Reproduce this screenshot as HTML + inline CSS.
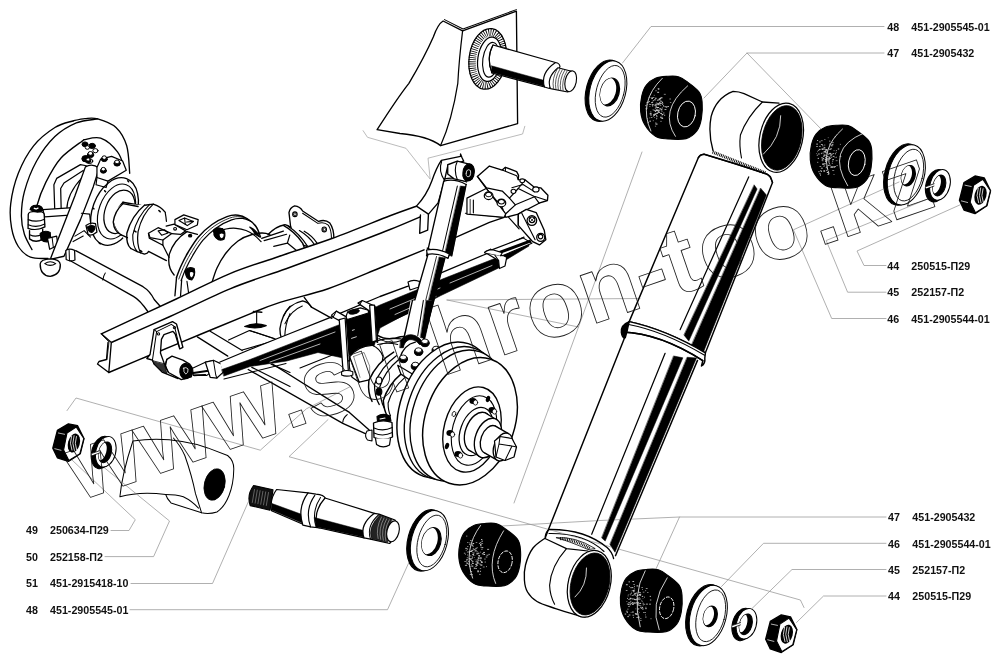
<!DOCTYPE html>
<html><head><meta charset="utf-8"><title>Shock absorber diagram</title>
<style>html,body{margin:0;padding:0;background:#fff}svg{display:block}</style></head>
<body>
<svg width="1000" height="655" viewBox="0 0 1000 655" stroke-linecap="round" stroke-linejoin="round">
<path d="M73.3,120.8 C70.2,121.9 61.5,123.3 54.9,127.5 C48.3,131.7 39.7,138.2 33.6,145.8 C27.5,153.4 22.1,163.6 18.3,173.3 C14.5,183.0 11.8,194.7 10.7,203.8 C9.6,213.0 10.3,221.1 11.6,228.2 C12.9,235.3 15.2,241.7 18.3,246.5 C21.4,251.3 25.6,255.2 30.5,257.2 C35.5,259.2 45.1,258.3 48.0,258.5" fill="none" stroke="#000" stroke-width="1.34" /><path d="M97.7,118.9 C94.1,119.6 83.4,120.0 76.3,122.9 C69.2,125.9 61.5,130.2 54.9,136.6 C48.3,142.9 41.7,151.8 36.6,161.0 C31.5,170.2 26.9,182.4 24.4,191.6 C21.9,200.8 21.4,208.9 21.4,216.0 C21.4,223.1 22.6,228.7 24.4,234.3 C26.2,239.9 30.7,247.1 32.0,249.6" fill="none" stroke="#000" stroke-width="1.34" /><path d="M84.0,139.7 C80.2,142.8 67.4,150.9 61.0,158.0 C54.6,165.1 49.9,174.3 45.8,182.4 C41.7,190.5 38.4,200.2 36.6,206.8 C34.8,213.4 35.4,219.5 35.1,222.0" fill="none" stroke="#000" stroke-width="1.34" /><path d="M73.3,120.8 C75.2,120.4 80.9,118.9 85.0,118.6 C89.1,118.3 92.5,117.4 97.7,118.9 C102.9,120.4 111.2,123.0 116.0,127.5 C120.8,132.0 124.4,138.2 126.7,145.8 C129.0,153.4 129.2,168.7 129.7,173.3" fill="none" stroke="#000" stroke-width="1.34" /><path d="M84.0,139.7 C86.8,139.4 95.1,136.2 100.7,138.2 C106.3,140.2 113.4,146.6 117.5,151.9 C121.6,157.2 123.9,167.1 125.2,170.2" fill="none" stroke="#000" stroke-width="1.34" /><ellipse cx="85.0" cy="144.3" rx="3.0" ry="2.4" fill="#000" stroke="#000" stroke-width="1"/><ellipse cx="92.2" cy="145.9" rx="3.2" ry="2.6" fill="#000" stroke="#000" stroke-width="1"/><ellipse cx="95.4" cy="150.7" rx="2.6" ry="2.1" fill="#fff" stroke="#000" stroke-width="1"/><ellipse cx="87.4" cy="147.5" rx="2.2" ry="1.8" fill="#fff" stroke="#000" stroke-width="1"/><ellipse cx="85.8" cy="158.7" rx="4.0" ry="3.2" fill="#000" stroke="#000" stroke-width="1"/><ellipse cx="89.8" cy="161.1" rx="3.0" ry="2.4" fill="#fff" stroke="#000" stroke-width="1"/><ellipse cx="114.5" cy="211.5" rx="22.0" ry="35.0" transform="rotate(20 114.5 211.5)" fill="#fff" stroke="#000" stroke-width="1.34" /><ellipse cx="116.5" cy="211.5" rx="17.5" ry="28.5" transform="rotate(20 116.5 211.5)" fill="none" stroke="#000" stroke-width="1.12" /><ellipse cx="119.5" cy="211.8" rx="14.5" ry="22.5" transform="rotate(20 119.5 211.8)" fill="none" stroke="#000" stroke-width="1.23" /><g transform="translate(20,150) scale(0.18322)"><path d="M190,335 L185,190 L200,155 L330,80 L362,86" fill="none" stroke="#000" stroke-width="6.72"/><path d="M225,335 L222,210 L240,180 L345,112" fill="none" stroke="#000" stroke-width="6.72"/><path d="M255,330 Q255,240 340,150" fill="none" stroke="#000" stroke-width="6.11"/><path d="M125,325 L290,315 L270,355 L135,365 Z" fill="#fff" stroke="#000" stroke-width="6.72"/><path d="M45,352 Q45,335 88,335 Q132,335 132,352 L136,420 Q90,445 44,428 Z" fill="#fff" stroke="#000" stroke-width="7.34"/><path d="M45,380 Q90,398 134,378 M45,408 Q90,428 135,404" fill="none" stroke="#000" stroke-width="6.11"/><path d="M52,440 L52,485 Q85,510 122,488 L124,432" fill="#fff" stroke="#000" stroke-width="7.34"/><path d="M53,462 Q88,480 123,458" fill="none" stroke="#000" stroke-width="6.11"/><path d="M55,325 Q60,300 92,302 Q125,305 125,330 Q92,350 55,325Z" fill="#000" stroke="#000" stroke-width="6.11"/><path d="M78,318 l10,4 l10,-5" fill="none" stroke="#fff" stroke-width="7.34"/><path d="M110,455 Q135,435 165,450 L168,495 Q140,510 115,490 Z" fill="#000" stroke="#000" stroke-width="6.11"/><path d="M150,482 L200,470 L207,520 L162,542 Z" fill="#fff" stroke="#000" stroke-width="6.72"/><path d="M175,476 L182,532" fill="none" stroke="#000" stroke-width="5.50"/><path d="M357,92 Q395,70 432,100 L400,200 L330,380 L240,580 L165,597 L230,430 L300,250 Z" fill="#fff" stroke="#000" stroke-width="7.34"/><path d="M420,95 L440,50 L500,35 L560,60 L580,110 L480,170 L420,150 Z" fill="#fff" stroke="#000" stroke-width="6.72"/><path d="M420,150 L415,190 L470,205 L480,170" fill="none" stroke="#000" stroke-width="6.11"/><path d="M588,168 l5,5 M462,222 l5,6 M398,318 l6,3 M433,508 l6,4" fill="none" stroke="#000" stroke-width="8.19"/><path d="M562,285 L660,302 L660,480 L592,470 L545,450 Q500,400 520,330 Q535,295 562,285 Z" fill="#fff" stroke="none" stroke-width="0.00"/><path d="M562,285 Q515,330 515,395 Q525,440 545,450" fill="none" stroke="#000" stroke-width="7.34"/><path d="M562,285 L660,303" fill="none" stroke="#000" stroke-width="7.34"/><path d="M545,450 L592,471" fill="none" stroke="#000" stroke-width="7.34"/><path d="M360,412 Q385,392 412,402 L420,448 Q395,470 372,462 Z" fill="#fff" stroke="#000" stroke-width="6.72"/><path d="M368,420 Q388,405 408,418 Q410,440 392,450 Q372,448 368,420Z" fill="#000" stroke="#000" stroke-width="6.11"/><path d="M335,345 L380,350 L386,405" fill="none" stroke="#000" stroke-width="6.11"/><path d="M300,470 L350,440 L385,475 M290,500 L345,470" fill="none" stroke="#000" stroke-width="6.11"/><path d="M110,622 Q112,596 165,594 Q218,596 220,625 Q222,680 165,690 Q110,685 110,622Z" fill="#fff" stroke="#000" stroke-width="7.34"/><path d="M135,620 Q165,600 195,620 Q165,640 135,620Z" fill="none" stroke="#000" stroke-width="6.11"/><path d="M250,548 Q270,535 298,548 L300,600 Q275,612 252,598 Z" fill="#fff" stroke="#000" stroke-width="6.72"/><path d="M268,545 L270,606" fill="none" stroke="#000" stroke-width="5.50"/></g><ellipse cx="104.3" cy="159.2" rx="3.0" ry="2.4" fill="#000" stroke="#000" stroke-width="1"/><ellipse cx="104.3" cy="157.6" rx="2.2" ry="1.8" fill="#fff" stroke="#000" stroke-width="1"/><ellipse cx="117.1" cy="163.5" rx="3.2" ry="2.6" fill="#000" stroke="#000" stroke-width="1"/><ellipse cx="117.1" cy="161.9" rx="2.4" ry="1.9" fill="#fff" stroke="#000" stroke-width="1"/><ellipse cx="103.4" cy="170.8" rx="3.0" ry="2.4" fill="#000" stroke="#000" stroke-width="1"/><ellipse cx="103.4" cy="169.2" rx="2.2" ry="1.8" fill="#fff" stroke="#000" stroke-width="1"/><ellipse cx="90.5" cy="155.0" rx="3.2" ry="2.6" fill="#000" stroke="#000" stroke-width="1"/><ellipse cx="90.5" cy="153.4" rx="2.4" ry="1.9" fill="#fff" stroke="#000" stroke-width="1"/><ellipse cx="88.2" cy="161.1" rx="2.6" ry="2.1" fill="#000" stroke="#000" stroke-width="1"/><ellipse cx="88.2" cy="159.5" rx="2.0" ry="1.6" fill="#fff" stroke="#000" stroke-width="1"/><path d="M75.7,250.6 L143,286.7 Q150,291 154.2,299.5 L160.6,306.7" fill="none" stroke="#000" stroke-width="1.34" /><path d="M70.8,261 L133.4,296.3 Q140,300 147.8,311.5" fill="none" stroke="#000" stroke-width="1.34" /><path d="M105.3,273 q-2,3 -2.5,7" fill="none" stroke="#000" stroke-width="1.01" /><path d="M176.5,277.4 C173.3,271.7 179.1,270.1 181.0,266.0 C182.9,261.9 185.1,257.3 188.0,252.5 C190.9,247.7 194.4,241.7 198.4,237.0 C202.4,232.3 207.2,227.9 212.0,224.5 C216.8,221.1 222.7,218.2 227.0,216.6 C231.3,215.0 234.7,214.9 238.0,215.2 C241.3,215.5 244.0,216.6 247.0,218.5 C250.0,220.4 253.8,223.4 256.0,226.5 C258.2,229.6 259.5,231.1 260.5,237.0 C261.5,242.9 265.4,253.2 262.0,262.0 C258.6,270.8 250.3,283.7 240.0,290.0 C229.7,296.3 210.6,302.1 200.0,300.0 C189.4,297.9 179.7,283.1 176.5,277.4Z" fill="#fff" stroke="#000" stroke-width="0" /><path d="M176.5,277.4 C177.2,275.5 179.1,270.1 181.0,266.0 C182.9,261.9 185.1,257.3 188.0,252.5 C190.9,247.7 194.4,241.7 198.4,237.0 C202.4,232.3 207.2,227.9 212.0,224.5 C216.8,221.1 222.7,218.2 227.0,216.6 C231.3,215.0 234.7,214.9 238.0,215.2 C241.3,215.5 244.0,216.6 247.0,218.5 C250.0,220.4 253.8,223.4 256.0,226.5 C258.2,229.6 259.8,235.2 260.5,237.0" fill="none" stroke="#000" stroke-width="1.46" /><path d="M181.1,280.6 C181.8,278.7 183.7,273.3 185.6,269.2 C187.5,265.1 189.7,260.5 192.6,255.7 C195.5,250.9 199.0,244.9 203.0,240.2 C207.0,235.5 211.8,231.1 216.6,227.7 C221.4,224.3 227.3,221.3 231.6,219.8 C235.9,218.2 239.3,218.1 242.6,218.4 C245.9,218.7 250.1,221.1 251.6,221.7" fill="none" stroke="#000" stroke-width="1.23" /><path d="M178.8,279.0 C179.6,277.1 181.4,271.8 183.3,267.6 C185.2,263.5 187.4,258.9 190.3,254.1 C193.2,249.3 196.7,243.3 200.7,238.6 C204.7,233.9 209.5,229.5 214.3,226.1 C219.1,222.7 225.0,219.8 229.3,218.2 C233.6,216.6 237.0,216.5 240.3,216.8 C243.6,217.1 247.8,219.5 249.3,220.1" fill="none" stroke="#000" stroke-width="0.8" /><path d="M211.5,284.0 C212.4,281.3 214.6,273.2 217.0,268.0 C219.4,262.8 222.5,257.5 226.0,253.0 C229.5,248.5 233.7,244.1 238.0,241.0 C242.3,237.9 247.3,235.8 252.0,234.5 C256.7,233.2 262.2,232.6 266.0,233.3 C269.8,234.1 272.7,236.6 275.0,239.0 C277.3,241.4 278.8,245.2 280.0,248.0 C281.2,250.8 281.7,254.7 282.0,256.0" fill="none" stroke="#000" stroke-width="1.34" /><path d="M216.6,232.5 C218.2,231.9 222.8,229.7 226.0,229.0 C229.2,228.3 232.7,228.1 236.0,228.3 C239.3,228.6 243.0,229.4 246.0,230.5 C249.0,231.6 251.5,233.2 254.0,235.0 C256.5,236.8 259.8,240.4 261.0,241.5" fill="none" stroke="#000" stroke-width="1.23" /><g transform="translate(110,190) scale(0.16032)"><path d="M80,85 L215,95 L130,365 L70,280 Q10,220 25,150 Q40,100 80,85Z" fill="#fff" stroke="none" stroke-width="0.00"/><path d="M80,85 Q30,130 20,200 Q25,260 70,280" fill="none" stroke="#000" stroke-width="8.38"/><path d="M80,85 L175,103" fill="none" stroke="#000" stroke-width="8.38"/><path d="M70,280 L112,298" fill="none" stroke="#000" stroke-width="8.38"/><path d="M215,95 L270,88 L310,105 L345,140 L350,200 L240,385 L215,400 L170,385 L130,365 Q90,270 130,170 Q170,100 215,95Z" fill="#fff" stroke="none" stroke-width="0.00"/><path d="M215,95 Q135,160 105,270 Q100,340 130,365" fill="none" stroke="#000" stroke-width="8.38"/><path d="M248,90 Q168,165 142,280 Q140,350 170,385" fill="none" stroke="#000" stroke-width="6.99"/><path d="M215,95 L270,88 Q320,105 345,140" fill="none" stroke="#000" stroke-width="8.38"/><path d="M130,365 L170,385 L215,400 Q235,395 240,385" fill="none" stroke="#000" stroke-width="8.38"/><path d="M270,88 Q200,150 175,260 Q165,340 190,392" fill="none" stroke="#000" stroke-width="7.68"/><path d="M305,128 l8,8" fill="none" stroke="#000" stroke-width="9.98"/><path d="M152,255 l10,6" fill="none" stroke="#000" stroke-width="9.98"/><path d="M190,378 l8,6" fill="none" stroke="#000" stroke-width="9.98"/><path d="M345,145 Q350,170 352,195" fill="none" stroke="#000" stroke-width="7.68"/><path d="M240,383 L352,440" fill="none" stroke="#000" stroke-width="8.38"/><path d="M240,270 L300,235 L385,272 L330,312 L250,297 Z" fill="#fff" stroke="#000" stroke-width="7.68"/><path d="M240,270 L245,300 L330,345 L330,312" fill="none" stroke="#000" stroke-width="7.68"/><path d="M300,255 L340,248 L362,268 L322,282 Z" fill="none" stroke="#000" stroke-width="6.99"/><path d="M350,225 L400,213 L472,255 L440,277 L385,272" fill="none" stroke="#000" stroke-width="7.68"/><path d="M397,242 a9,8 0 1,0 18,0 a9,8 0 1,0 -18,0" fill="none" stroke="#000" stroke-width="6.99"/><path d="M405,185 L460,155 L550,185 L545,218 L480,248 L405,215 Z" fill="#fff" stroke="#000" stroke-width="7.68"/><path d="M430,190 L465,175 L520,196 L482,222 Z" fill="none" stroke="#000" stroke-width="6.99"/><path d="M465,175 L470,215 M520,196 L478,200" fill="none" stroke="#000" stroke-width="6.99"/><path d="M480,260 Q400,310 370,400 Q355,480 400,530" fill="none" stroke="#000" stroke-width="8.38"/><path d="M480,260 L545,277" fill="none" stroke="#000" stroke-width="8.38"/><path d="M330,345 L368,420" fill="none" stroke="#000" stroke-width="7.68"/><path d="M490,285 a10,8 0 1,0 20,0 a10,8 0 1,0 -20,0" fill="#000" stroke="#000" stroke-width="6.99"/><path d="M645,250 Q670,225 705,245 Q720,280 690,305 Q650,310 645,250Z" fill="#000" stroke="#000" stroke-width="7.68"/><path d="M672,262 Q690,250 706,268 Q708,290 688,298 Q670,290 672,262Z" fill="#fff" stroke="#000" stroke-width="6.99"/><path d="M470,500 Q490,475 525,490 Q535,530 510,560 Q470,560 470,500Z" fill="#000" stroke="#000" stroke-width="7.68"/><path d="M495,512 Q510,502 524,515 Q526,540 508,550 Q492,540 495,512Z" fill="#fff" stroke="#000" stroke-width="6.99"/><path d="M415,545 L405,660" fill="none" stroke="#000" stroke-width="8.38"/><path d="M447,562 L440,660" fill="none" stroke="#000" stroke-width="7.68"/><path d="M480,570 L490,640" fill="none" stroke="#000" stroke-width="6.99"/></g><g transform="translate(200,195) scale(0.16032)"><path d="M565,195 L555,110 Q560,80 590,68 Q625,72 640,100 L740,165 Q780,150 810,175 Q835,210 835,270 L820,285 L700,330 L600,300 Z" fill="#fff" stroke="#000" stroke-width="8.38"/><path d="M640,114 L735,177 Q775,165 800,188 Q820,215 820,272" fill="none" stroke="#000" stroke-width="6.29"/><path d="M578,120 a14,15 0 1,0 28,0 a14,15 0 1,0 -28,0" fill="none" stroke="#000" stroke-width="6.99"/><path d="M584,120 a8,9 0 1,0 16,0 a8,9 0 1,0 -16,0" fill="none" stroke="#000" stroke-width="4.99"/><path d="M761,215 a14,15 0 1,0 28,0 a14,15 0 1,0 -28,0" fill="none" stroke="#000" stroke-width="6.99"/><path d="M767,215 a8,9 0 1,0 16,0 a8,9 0 1,0 -16,0" fill="none" stroke="#000" stroke-width="4.99"/><path d="M385,270 L520,225 L560,200 L600,235 L660,345 L610,352 L500,388 L460,320 L400,285 Z" fill="#fff" stroke="none" stroke-width="0.00"/><path d="M385,270 L520,225" fill="none" stroke="#000" stroke-width="8.38"/><path d="M400,285 L540,245" fill="none" stroke="#000" stroke-width="7.68"/><path d="M425,247 Q470,195 530,185 Q550,190 562,200" fill="none" stroke="#000" stroke-width="9.08"/><path d="M460,320 L545,300 L560,250" fill="none" stroke="#000" stroke-width="7.68"/><path d="M545,300 L600,345" fill="none" stroke="#000" stroke-width="7.68"/><path d="M500,385 L612,350" fill="none" stroke="#000" stroke-width="7.68"/><path d="M520,190 Q590,228 640,300 L656,342" fill="none" stroke="#000" stroke-width="9.08"/><path d="M550,195 Q620,240 672,322" fill="none" stroke="#000" stroke-width="7.68"/><path d="M620,222 Q680,258 716,312" fill="none" stroke="#000" stroke-width="7.68"/><path d="M650,226 Q700,254 730,300" fill="none" stroke="#000" stroke-width="7.68"/><path d="M310,200 Q350,215 372,262 L345,245 Q330,215 310,200Z" fill="#000" stroke="#000" stroke-width="6.99"/><path d="M88,250 Q100,205 140,210 Q165,235 150,275 Q110,295 88,250Z" fill="#000" stroke="#000" stroke-width="7.68"/><path d="M118,245 Q135,228 152,245 Q152,268 135,275 Q118,268 118,245Z" fill="#fff" stroke="#000" stroke-width="6.99"/></g><path d="M101.3,333.8 L176.2,299.0 L230.0,273.6 L278.1,256.7 L332.6,238.3 L390.0,215.8 L416.5,206.2 L424.0,249.8 L376.2,269.5 L328.1,288.7 L280.0,302.4 L250.0,313.8 L200.0,334.5 L148.0,356.0 L108.8,372.5Z" fill="#fff" stroke="#000" stroke-width="0" /><path d="M101.3,333.8 C113.8,328.0 154.8,309.0 176.2,299.0 C197.6,289.0 213.0,280.7 230.0,273.6 C247.0,266.6 261.0,262.6 278.1,256.7 C295.2,250.8 314.0,245.1 332.6,238.3 C351.2,231.5 376.0,221.2 390.0,215.8 C404.0,210.5 412.1,207.8 416.5,206.2" fill="none" stroke="#000" stroke-width="1.46" /><path d="M111.3,342.5 C121.1,338.2 150.2,325.4 170.0,316.5 C189.8,307.6 210.7,296.8 230.0,288.8 C249.3,280.8 267.4,275.5 286.1,268.7 C304.8,261.9 324.9,254.4 342.2,247.9 C359.5,241.4 376.3,235.0 390.0,229.5 C403.7,224.0 418.8,217.4 424.5,215.0" fill="none" stroke="#000" stroke-width="1.46" /><path d="M108.8,372.5 C115.3,369.8 132.8,362.3 148.0,356.0 C163.2,349.7 183.0,341.5 200.0,334.5 C217.0,327.5 236.7,319.2 250.0,313.8 C263.3,308.4 267.0,306.6 280.0,302.4 C293.0,298.2 312.1,294.2 328.1,288.7 C344.1,283.2 360.2,276.0 376.2,269.5 C392.2,263.0 416.0,253.1 424.0,249.8" fill="none" stroke="#000" stroke-width="1.46" /><path d="M101.3,333.8 L111.3,342.5 L108.8,372.5 L97.5,364 L99,361.5 L106.5,359.5 L108,342.5" fill="#fff" stroke="#000" stroke-width="1.34" /><path d="M102.5,335.5 L109,342 L107,359.5" fill="none" stroke="#000" stroke-width="0.8" /><path d="M248.2,369.5 L342.8,423.4 L367,434.4 L369.2,430 L349.4,412.4 L272.4,364 Z" fill="#fff" stroke="#000" stroke-width="0" /><path d="M248.2,369.5 L342.8,423.4 L367,434.4" fill="none" stroke="#000" stroke-width="1.34" /><path d="M272.4,364 L349.4,412.4 L369.2,430" fill="none" stroke="#000" stroke-width="1.34" /><path d="M347.2,414.6 Q343,418 342.8,422.3" fill="none" stroke="#000" stroke-width="1.12" /><path d="M367,431 Q364,436 367.5,440 L372,441 L372,430Z" fill="#fff" stroke="#000" stroke-width="1.12" /><path d="M377,416.5 Q383,412.5 390,416 L391,421 Q384,424 377.5,421.5Z" fill="#000" stroke="#000" stroke-width="1.12" /><path d="M373.5,423 Q383,419 392,422.5 L392.5,437 Q384,441.5 374,437.5Z" fill="#fff" stroke="#000" stroke-width="1.34" /><path d="M374,428 Q383,432 392.3,427.5 M374,433 Q383,437 392.4,432.5" fill="none" stroke="#000" stroke-width="1.01" /><path d="M375.5,438.5 L376.5,444.5 Q383,449 389.5,445 L390.5,438.5" fill="#fff" stroke="#000" stroke-width="1.23" /><path d="M380,419 l5,-1" fill="none" stroke="#fff" stroke-width="1.12" /><g transform="translate(130,300) scale(0.16032)"><path d="M420,230 L610,350" fill="none" stroke="#000" stroke-width="7.68"/><path d="M500,195 L700,315" fill="none" stroke="#000" stroke-width="7.68"/><path d="M615,250 L745,190 L900,240" fill="none" stroke="#000" stroke-width="6.99"/><path d="M745,190 L998,275" fill="none" stroke="#000" stroke-width="6.99"/><path d="M700,312 L998,228" fill="none" stroke="#000" stroke-width="7.68"/><path d="M760,420 L998,540" fill="none" stroke="#000" stroke-width="7.68"/><path d="M880,400 L998,452" fill="none" stroke="#000" stroke-width="7.68"/><path d="M715,165 Q780,135 850,160 Q790,185 715,165Z" fill="#000" stroke="#000" stroke-width="6.99"/><path d="M790,72 L790,150" fill="none" stroke="#000" stroke-width="6.99"/><path d="M770,72 L822,76" fill="none" stroke="#000" stroke-width="9.78"/><path d="M998,40 Q945,100 935,180 Q935,215 945,240" fill="none" stroke="#000" stroke-width="8.38"/><path d="M998,85 Q968,150 965,232" fill="none" stroke="#000" stroke-width="6.99"/><path d="M150,185 L265,135 L290,150 L330,295 L310,305 L282,212 L268,196 L212,216 L196,246 L190,330 L215,400 L300,490 L200,450 L150,400 L140,375 L105,365 L125,340 Z" fill="#fff" stroke="#000" stroke-width="8.38"/><path d="M166,197 L258,152 L278,166 L308,292" fill="none" stroke="#000" stroke-width="6.29"/><path d="M150,185 L166,197 L140,375" fill="none" stroke="#000" stroke-width="6.29"/><path d="M171,212 a7,7 0 1,0 14,0 a7,7 0 1,0 -14,0" fill="none" stroke="#000" stroke-width="6.29"/><path d="M270,172 a7,7 0 1,0 14,0 a7,7 0 1,0 -14,0" fill="none" stroke="#000" stroke-width="6.29"/><path d="M140,380 Q170,430 230,460 L215,400 Z" fill="#333" stroke="#000" stroke-width="4.99"/><path d="M230,370 L262,350 L330,375 L372,400 L392,440 L382,480 L320,497 L240,452 L220,410 Z" fill="#fff" stroke="#000" stroke-width="8.38"/><path d="M230,370 Q210,410 240,452" fill="none" stroke="#000" stroke-width="6.99"/><path d="M345,395 Q395,405 392,445 Q385,490 335,492 Q305,470 312,430 Q320,400 345,395Z" fill="#000" stroke="#000" stroke-width="6.99"/><path d="M335,425 Q350,415 362,430 Q365,455 348,462 Q332,452 335,425Z" fill="#000" stroke="#fff" stroke-width="4.99"/><path d="M390,425 L470,388 L520,378 L540,420 L480,470 L395,470 Z" fill="#fff" stroke="#000" stroke-width="6.99"/><path d="M395,455 L500,440" fill="none" stroke="#000" stroke-width="12.47"/><path d="M400,470 L470,466" fill="none" stroke="#000" stroke-width="9.98"/><path d="M470,388 L520,376 L572,400 L582,450 L542,487 L500,482 Z" fill="#fff" stroke="#000" stroke-width="7.68"/><path d="M520,376 L535,468 L542,487" fill="none" stroke="#000" stroke-width="6.29"/></g><path d="M220.0,362.0 L250.0,349.5 L290.0,333.5 L328.0,318.3 L380.0,296.5 L408.0,286.1 L444.0,271.7 L486.0,254.0 L524.0,237.2 L529.0,246.0 L505.0,260.5 L498.6,268.0 L440.9,295.5 L415.3,309.0 L380.0,328.0 L373.0,349.0 L349.0,355.0 L343.0,358.0 L318.0,352.5 L286.6,361.0 L250.0,366.5 L224.0,376.0Z" fill="#fff" stroke="#000" stroke-width="0" /><path d="M222.0,369.5 L250.0,359.5 L340.0,324.4 L380.0,305.0 L415.3,290.5 L442.5,279.0 L492.2,259.5 L505.0,254.5 L528.0,242.5 L529.0,246.0 L505.0,260.5 L498.6,268.0 L440.9,295.5 L415.3,309.0 L380.0,328.0 L373.0,349.0 L349.0,355.0 L343.0,358.0 L318.0,352.5 L286.6,361.0 L250.0,366.5 L224.0,376.0Z" fill="#000" stroke="#000" stroke-width="0.6" /><path d="M220.0,362.0 L250.0,349.5 L290.0,333.5 L328.0,318.3 L380.0,296.5 L408.0,286.1 L444.0,271.7 L486.0,254.0 L524.0,237.2" fill="none" stroke="#000" stroke-width="1.34" /><path d="M224,379 L286,363.5" fill="none" stroke="#000" stroke-width="1.12" /><path d="M341.6,347 L380,326 L430,303" fill="none" stroke="#000" stroke-width="1.46" /><path d="M300,368 L340,352" fill="none" stroke="#000" stroke-width="1.12" /><path d="M260,360.5 L335,332 M270,362 L320,344 M390,309 L440,288 M395,314.5 L436,296.5 M450,283 L492,265.5" fill="none" stroke="#fff" stroke-width="0.7" /><path d="M485,252.4 L490.6,249.2 L506.7,257.3 L505,266 L499.4,268.5 L498.6,260.5 Z" fill="#fff" stroke="#000" stroke-width="1.23" /><path d="M490.6,249.2 L498.6,260.5" fill="none" stroke="#000" stroke-width="1.01" /><path d="M408,282 Q413,279 419.5,281.5 L419,287 L410,290Z" fill="#fff" stroke="#000" stroke-width="1.12" /><g transform="translate(285,255) scale(0.16032)"><path d="M-10,380 Q25,305 110,286 Q150,297 165,325" fill="none" stroke="#000" stroke-width="8.38"/><path d="M0,428 Q38,345 108,318" fill="none" stroke="#000" stroke-width="6.99"/><path d="M120,264 L165,325 L292,395" fill="none" stroke="#000" stroke-width="8.38"/><path d="M385,402 L522,360 L550,590 L405,625 Z" fill="#000" stroke="#000" stroke-width="3.12"/><path d="M380,385 L392,352 L470,330 L520,345 L520,362 L388,402Z" fill="#fff" stroke="#000" stroke-width="6.99"/><path d="M396,358 a34,14 -12 1,0 68,-8 a34,14 -12 1,0 -68,8" fill="#000" stroke="#000" stroke-width="4.99"/><path d="M420,470 l12,-4 M415,520 l30,-10" fill="none" stroke="#fff" stroke-width="4.99"/><path d="M290,375 L320,350 L382,386 L402,660 L380,660 L360,420 L300,388 Z" fill="#fff" stroke="#000" stroke-width="7.68"/><path d="M320,350 L300,388" fill="none" stroke="#000" stroke-width="6.29"/><path d="M455,300 L482,284 L562,320 L578,545 L552,532 L532,352 L466,308 Z" fill="#fff" stroke="#000" stroke-width="7.68"/><path d="M482,284 L466,308" fill="none" stroke="#000" stroke-width="6.29"/><path d="M575,500 Q640,540 720,510 Q790,500 840,520" fill="none" stroke="#000" stroke-width="9.78"/><path d="M585,520 Q650,560 720,535" fill="none" stroke="#000" stroke-width="6.99"/></g><g transform="translate(390,150) scale(0.16032)"><path d="M410,545 L620,452 L712,420" fill="none" stroke="#000" stroke-width="8.38"/><path d="M470,395 L700,420" fill="none" stroke="#000" stroke-width="6.29"/><path d="M190,405 L185,520 L235,500 L240,395" fill="#fff" stroke="#000" stroke-width="8.38"/><path d="M320,65 L440,40 L440,25 L448,45 L460,70 L360,100 L340,190 L300,330 L240,400 L165,350 Q230,280 262,190 Q290,110 320,65Z" fill="#fff" stroke="#000" stroke-width="8.38"/><path d="M322,72 Q300,130 340,190" fill="none" stroke="#000" stroke-width="6.99"/><path d="M545,165 L620,100 L700,125 L720,108 L790,135 L802,158 L800,185 L842,186 L900,232 L940,236 L985,282 L982,315 L930,332 L800,400 L722,420 L700,360 L600,240 Z" fill="#fff" stroke="#000" stroke-width="8.38"/><path d="M545,165 L602,236 L700,256 L745,300 L782,342 L722,398" fill="none" stroke="#000" stroke-width="7.68"/><path d="M700,125 L790,160 L800,185" fill="none" stroke="#000" stroke-width="6.99"/><path d="M720,108 L720,130" fill="none" stroke="#000" stroke-width="6.29"/><path d="M745,300 L800,240 L900,290 L930,332" fill="none" stroke="#000" stroke-width="7.68"/><path d="M782,342 L905,290 L982,315" fill="none" stroke="#000" stroke-width="6.99"/><path d="M800,240 L842,186" fill="none" stroke="#000" stroke-width="6.99"/><path d="M760,235 L830,215 L900,260" fill="none" stroke="#000" stroke-width="6.29"/><path d="M480,300 L600,240 L722,398 L712,420 L480,400 Z" fill="#fff" stroke="#000" stroke-width="7.68"/><path d="M520,312 L520,392" fill="none" stroke="#000" stroke-width="6.99"/><path d="M500,308 L500,396" fill="none" stroke="#000" stroke-width="4.99"/><path d="M588,285 a27,24 0 1,0 54,0 a27,24 0 1,0 -54,0" fill="#fff" stroke="#000" stroke-width="7.68"/><path d="M596,278 a19,14 0 1,0 38,0 a19,14 0 1,0 -38,0" fill="none" stroke="#000" stroke-width="6.29"/><path d="M668,330 a27,24 0 1,0 54,0 a27,24 0 1,0 -54,0" fill="#fff" stroke="#000" stroke-width="7.68"/><path d="M676,323 a19,14 0 1,0 38,0 a19,14 0 1,0 -38,0" fill="none" stroke="#000" stroke-width="6.29"/><path d="M755,258 a15,13 0 1,0 30,0 a15,13 0 1,0 -30,0" fill="#fff" stroke="#000" stroke-width="6.99"/><path d="M890,246 a20,16 0 1,0 40,0 a20,16 0 1,0 -40,0" fill="#fff" stroke="#000" stroke-width="6.99"/><path d="M810,192 a15,12 0 1,0 30,0 a15,12 0 1,0 -30,0" fill="#fff" stroke="#000" stroke-width="6.99"/><path d="M800,400 L850,370 L912,390 L962,500 L972,560 L932,592 L890,572 L800,470 Z" fill="#fff" stroke="#000" stroke-width="8.38"/><path d="M800,470 L800,400 M822,395 L905,560" fill="none" stroke="#000" stroke-width="6.99"/><path d="M855,440 a30,30 0 1,0 60,0 a30,30 0 1,0 -60,0" fill="#fff" stroke="#000" stroke-width="7.68"/><path d="M868,435 a18,18 0 1,0 36,0 a18,18 0 1,0 -36,0" fill="none" stroke="#000" stroke-width="6.99"/><path d="M875,425 l22,22 m0,-22 l-22,22" fill="none" stroke="#000" stroke-width="4.99"/><path d="M915,545 a25,25 0 1,0 50,0 a25,25 0 1,0 -50,0" fill="#fff" stroke="#000" stroke-width="7.68"/><path d="M925,540 a14,14 0 1,0 28,0 a14,14 0 1,0 -28,0" fill="none" stroke="#000" stroke-width="6.99"/><path d="M740,420 L805,492" fill="none" stroke="#000" stroke-width="7.68"/><path d="M590,640 L830,548 L885,582 L700,660 Z" fill="#fff" stroke="#000" stroke-width="6.99"/><path d="M680,640 L870,570" fill="none" stroke="#000" stroke-width="18.71"/><path d="M590,640 Q600,625 640,622 L700,640 L690,660" fill="#fff" stroke="#000" stroke-width="7.68"/><path d="M335,195 L475,215 L385,660 L228,660 Z" fill="#fff" stroke="none" stroke-width="0.00"/><path d="M335,195 L228,660" fill="none" stroke="#000" stroke-width="8.38"/><path d="M475,215 L385,660" fill="none" stroke="#000" stroke-width="8.38"/><path d="M440,225 L472,228 L385,660 L340,660 Z" fill="#000" stroke="#000" stroke-width="3.12"/><path d="M420,225 L322,655" fill="none" stroke="#000" stroke-width="6.29"/><path d="M335,195 Q400,175 475,215" fill="none" stroke="#000" stroke-width="7.68"/><path d="M340,180 Q410,165 478,200" fill="none" stroke="#000" stroke-width="6.99"/><path d="M232,612 Q300,650 380,632" fill="none" stroke="#000" stroke-width="7.68"/><path d="M360,92 L420,70 L500,90 L525,130 L512,180 L470,196 L400,180 L360,150 Z" fill="#fff" stroke="#000" stroke-width="8.38"/><path d="M420,70 Q395,120 420,185" fill="none" stroke="#000" stroke-width="6.99"/><path d="M455,140 a35,48 10 1,0 70,0 a35,48 10 1,0 -70,0" fill="#000" stroke="#000" stroke-width="6.99"/><path d="M475,145 a14,20 10 1,0 28,0 a14,20 10 1,0 -28,0" fill="none" stroke="#fff" stroke-width="4.99"/></g><path d="M428.1,254 L444.9,258 L423.7,339 L404.1,337.3 Z" fill="#fff" stroke="#000" stroke-width="0" /><path d="M428.1,254 L404.1,337.3 M444.9,258 L423.7,339" fill="none" stroke="#000" stroke-width="1.34" /><path d="M439.3,257 L444.9,258 L424.3,338.5 L419.6,337.4 Z" fill="#000" stroke="#000" stroke-width="0.5" /><path d="M436.5,256.5 L416.8,336.6" fill="none" stroke="#000" stroke-width="0.8" /><path d="M426.5,250 Q437.7,247.5 449.3,254 L448.1,258.4 Q437.7,252.5 427.3,254.3 Z" fill="#fff" stroke="#000" stroke-width="1.23" /><g transform="translate(340,310) scale(0.16032)"><path d="M440,-60 L400,170 L520,182 L572,-60 Z" fill="#fff" stroke="none" stroke-width="0.00"/><path d="M452,-60 L400,170" fill="none" stroke="#000" stroke-width="8.38"/><path d="M580,-60 L522,182" fill="none" stroke="#000" stroke-width="8.38"/><path d="M538,-60 L582,-60 L530,180 L502,172 Z" fill="#000" stroke="#000" stroke-width="3.12"/><path d="M520,-60 L485,160" fill="none" stroke="#000" stroke-width="6.29"/><path d="M380,185 Q420,140 470,160 Q510,180 520,215 L495,215 Q470,180 430,185 Q400,200 395,235 L375,235 Z" fill="#000" stroke="#000" stroke-width="4.99"/><path d="M60,292 Q110,225 200,220 Q250,240 268,290 L250,420 L120,450 Z" fill="#fff" stroke="#000" stroke-width="7.68"/><path d="M60,292 Q50,360 75,420 L120,450" fill="none" stroke="#000" stroke-width="7.68"/><path d="M85,290 L150,265 L185,350 L185,440 M85,290 L125,420" fill="none" stroke="#555" stroke-width="4.37"/><path d="M335,262 Q230,325 180,440 Q170,520 250,605 L330,655 L420,500 L380,300 Z" fill="#fff" stroke="none" stroke-width="0.00"/><path d="M335,262 Q230,325 180,440 Q172,520 200,570" fill="none" stroke="#000" stroke-width="9.08"/><path d="M352,285 Q255,355 215,465 Q215,540 245,590" fill="none" stroke="#000" stroke-width="7.68"/><path d="M365,310 Q280,380 248,480 Q250,560 275,610" fill="none" stroke="#000" stroke-width="7.68"/><path d="M385,395 Q300,465 270,565 Q275,630 295,660" fill="none" stroke="#000" stroke-width="9.08"/><path d="M405,420 Q325,490 300,580 Q300,630 315,660" fill="none" stroke="#000" stroke-width="6.99"/><path d="M225,440 a18,22 0 1,0 36,0 a18,22 0 1,0 -36,0" fill="#fff" stroke="#000" stroke-width="6.99"/><path d="M225,510 a18,22 0 1,0 36,0 a18,22 0 1,0 -36,0" fill="#000" stroke="#000" stroke-width="6.99"/><path d="M360,345 L470,410 L440,440 L380,400 Z" fill="#fff" stroke="#000" stroke-width="7.68"/><path d="M372,300 Q400,215 470,200" fill="none" stroke="#000" stroke-width="8.38"/><path d="M240,190 Q300,170 380,180" fill="none" stroke="#000" stroke-width="8.38"/><path d="M235,215 Q300,200 360,215" fill="none" stroke="#000" stroke-width="6.99"/><path d="M-5,60 L32,50 L52,380 L20,392 Z" fill="#fff" stroke="#000" stroke-width="7.68"/><path d="M185,-30 L215,-30 L227,190 L200,200 Z" fill="#fff" stroke="#000" stroke-width="7.68"/><path d="M10,385 Q40,370 80,385 L80,405 Q40,420 10,405Z" fill="#fff" stroke="#000" stroke-width="6.99"/></g><ellipse cx="425.0" cy="343.1" rx="4.2" ry="3.6" fill="#000" stroke="#000" stroke-width="1"/><ellipse cx="425.0" cy="341.3" rx="3.4" ry="2.3" fill="#fff" stroke="#000" stroke-width="0.8"/><ellipse cx="436.2" cy="350.3" rx="4.2" ry="3.6" fill="#000" stroke="#000" stroke-width="1"/><ellipse cx="436.2" cy="348.5" rx="3.4" ry="2.3" fill="#fff" stroke="#000" stroke-width="0.8"/><ellipse cx="418.6" cy="351.9" rx="4.2" ry="3.6" fill="#000" stroke="#000" stroke-width="1"/><ellipse cx="418.6" cy="350.1" rx="3.4" ry="2.3" fill="#fff" stroke="#000" stroke-width="0.8"/><ellipse cx="403.3" cy="359.1" rx="4.2" ry="3.6" fill="#000" stroke="#000" stroke-width="1"/><ellipse cx="403.3" cy="357.3" rx="3.4" ry="2.3" fill="#fff" stroke="#000" stroke-width="0.8"/><ellipse cx="415.4" cy="366.3" rx="4.2" ry="3.6" fill="#000" stroke="#000" stroke-width="1"/><ellipse cx="415.4" cy="364.5" rx="3.4" ry="2.3" fill="#fff" stroke="#000" stroke-width="0.8"/><ellipse cx="446.0" cy="410.0" rx="46.0" ry="70.0" transform="rotate(18.6 446.0 410.0)" fill="#fff" stroke="#000" stroke-width="1.46" /><ellipse cx="452.7" cy="413.2" rx="45.5" ry="68.5" transform="rotate(18.6 452.7 413.2)" fill="#fff" stroke="#000" stroke-width="1.34" /><ellipse cx="458.0" cy="415.7" rx="45.2" ry="67.5" transform="rotate(18.6 458.0 415.7)" fill="#fff" stroke="#000" stroke-width="1.34" /><ellipse cx="470.0" cy="421.3" rx="44.8" ry="65.4" transform="rotate(18.6 470.0 421.3)" fill="#fff" stroke="#000" stroke-width="1.46" /><ellipse cx="472.0" cy="429.5" rx="27.9" ry="43.5" transform="rotate(15 472.0 429.5)" fill="#fff" stroke="#000" stroke-width="1.34" /><ellipse cx="474.0" cy="430.5" rx="21.5" ry="35.5" transform="rotate(15 474.0 430.5)" fill="none" stroke="#000" stroke-width="1.12" /><ellipse cx="473" cy="401" rx="3.6" ry="3" fill="#000"/><ellipse cx="475.5" cy="402.5" rx="2.2" ry="2.6" fill="#fff" stroke="#000" stroke-width="0.8"/><ellipse cx="488" cy="399" rx="2" ry="3.2" transform="rotate(20 488 399)" fill="#000"/><ellipse cx="492" cy="410" rx="3.6" ry="3" fill="#000"/><ellipse cx="494.5" cy="411.5" rx="2.2" ry="2.6" fill="#fff" stroke="#000" stroke-width="0.8"/><ellipse cx="450" cy="433" rx="3.6" ry="3" fill="#000"/><ellipse cx="452.5" cy="434.5" rx="2.2" ry="2.6" fill="#fff" stroke="#000" stroke-width="0.8"/><ellipse cx="447" cy="446" rx="2" ry="3.2" transform="rotate(20 447 446)" fill="#000"/><ellipse cx="458" cy="454" rx="3.6" ry="3" fill="#000"/><ellipse cx="460.5" cy="455.5" rx="2.2" ry="2.6" fill="#fff" stroke="#000" stroke-width="0.8"/><ellipse cx="454" cy="414" rx="1.8" ry="2.6" transform="rotate(20 454 414)" fill="#fff" stroke="#000" stroke-width="0.8"/><ellipse cx="476.0" cy="431.5" rx="15.5" ry="25.0" transform="rotate(20 476.0 431.5)" fill="#fff" stroke="#000" stroke-width="1.23" /><ellipse cx="478.0" cy="432.0" rx="12.5" ry="20.5" transform="rotate(20 478.0 432.0)" fill="#fff" stroke="#000" stroke-width="1.34" /><path d="M485.0,412.7 L495.0,418.7 L481.0,457.3 L471.0,451.3Z" fill="#fff" stroke="#000" stroke-width="0" /><path d="M485.0,412.7 L495.0,418.7 M481.0,457.3 L471.0,451.3" fill="none" stroke="#000" stroke-width="1.34" /><ellipse cx="488.0" cy="438.0" rx="12.5" ry="20.5" transform="rotate(20 488.0 438.0)" fill="#fff" stroke="#000" stroke-width="1.34" /><ellipse cx="490.0" cy="439.5" rx="9.0" ry="14.5" transform="rotate(20 490.0 439.5)" fill="#fff" stroke="#000" stroke-width="1.34" /><path d="M495.0,425.9 L508.0,433.4 L498.0,460.6 L485.0,453.1Z" fill="#fff" stroke="#000" stroke-width="0" /><path d="M495.0,425.9 L508.0,433.4 M498.0,460.6 L485.0,453.1" fill="none" stroke="#000" stroke-width="1.34" /><ellipse cx="503.0" cy="447.0" rx="9.0" ry="14.5" transform="rotate(20 503.0 447.0)" fill="#fff" stroke="#000" stroke-width="1.34" /><path d="M494.5,441 L500,436.5 L512,438.5 L516.5,447 L514,457 L505,460.5 L496,457 Z" fill="#fff" stroke="#000" stroke-width="1.23" /><path d="M500,436.5 L499,444 L496,457 M499,444 L512,446 L516.5,447 M512,446 L505,460.5" fill="none" stroke="#000" stroke-width="1.01" />
<path d="M363.1,130.7 L367.5,137.3 L406,148.3 L425.8,173.6 L430.2,179.1 L428,158.2 L522.6,134 L524.8,126.3" fill="none" stroke="#aaa" stroke-width="0.8" /><path d="M443.1,21 L462.6,30.8 L516.4,11.2 L517.6,123.6 L440.6,145.6 Q428,136 400,133.5 L377.1,129.7 Q398,97 408.9,83.3 Q425,56 433.3,36.9 Q438,24 443.1,21Z" fill="#fff" stroke="#000" stroke-width="1.34" /><path d="M444.5,19.6 L463,29 L516.4,9.6" fill="none" stroke="#000" stroke-width="1.01" /><path d="M462.6,30.8 Q459,60 457.8,83.3 Q452,120 440.6,145.6" fill="none" stroke="#000" stroke-width="1.23" /><ellipse cx="487.7" cy="58.9" rx="18.6" ry="30.5" transform="rotate(8 487.7 58.9)" fill="#fff" stroke="#000" stroke-width="1.23" /><ellipse cx="487.7" cy="58.9" rx="15.3" ry="26.5" transform="rotate(8 487.7 58.9)" fill="none" stroke="#000" stroke-width="7.5" stroke-dasharray="0.8 1.3" stroke-linecap="butt"/><ellipse cx="489.6" cy="59.3" rx="11.8" ry="22.3" transform="rotate(8 489.6 59.3)" fill="#fff" stroke="#000" stroke-width="1.23" /><ellipse cx="490.8" cy="59.8" rx="8.0" ry="17.5" transform="rotate(8 490.8 59.8)" fill="#fff" stroke="#000" stroke-width="1.12" /><path d="M493,45 L555.5,62.5 L544.5,87 L492,73 Q486,58 493,45Z" fill="#fff" stroke="#000" stroke-width="1.23" /><path d="M493,45 Q486,58 492,73" fill="none" stroke="#000" stroke-width="1.12" /><path d="M491.5,65.8 L543.7,80.3 L544.5,86.5 L492,72.5Z" fill="#000" stroke="#000" stroke-width="0.5" /><path d="M555.5,62.5 Q559.5,63 560,66.5 L549.4,88.5 L544.5,87 Q540,73 555.5,62.5Z" fill="#fff" stroke="#000" stroke-width="1.12" /><path d="M558,67.8 L571.5,71.3 L567.7,92 L550.5,88.6 Q546,78 558,67.8Z" fill="#fff" stroke="#000" stroke-width="1.12" /><path d="M557.5,68.5 q-6,10 -4,20" fill="none" stroke="#333" stroke-width="0.8" /><path d="M559.9,69.1 q-6,10 -4,20" fill="none" stroke="#333" stroke-width="0.8" /><path d="M562.3,69.7 q-6,10 -4,20" fill="none" stroke="#333" stroke-width="0.8" /><path d="M564.7,70.3 q-6,10 -4,20" fill="none" stroke="#333" stroke-width="0.8" /><path d="M567.1,70.9 q-6,10 -4,20" fill="none" stroke="#333" stroke-width="0.8" /><ellipse cx="570.7" cy="81.3" rx="5.6" ry="10.6" transform="rotate(12 570.7 81.3)" fill="#fff" stroke="#000" stroke-width="1.12" />
<path d="M629.2,321.6 L698.3,157.8 L700.5,155.3 L704.0,154.2 L735.0,163.5 L767.5,174.3 L770.3,176.5 L772.5,182.6 L705.4,352.8 Q665.5,329.4 629.2,321.6 Z" fill="#fff" stroke="#000" stroke-width="1.46" /><path d="M748.7,176.9 L680.1,329.7" fill="none" stroke="#000" stroke-width="1.23" /><path d="M754.3,185.1 L757.1,189.0 L688.8,341.1 L684.1,335.2Z" fill="#000" stroke="#000" stroke-width="0.5" /><path d="M760.7,188.3 L766.4,195.0 L702.8,353.7 L690.9,346.9Z" fill="#000" stroke="#000" stroke-width="0.5" /><path d="M629.2,321.6 Q665.5,329.4 705.4,352.8 L704.8,358 Q705.5,363.5 701.5,366 L702.8,360.6 Q660,333.3 622.2,332 Z" fill="#fff" stroke="#000" stroke-width="1.46" /><path d="M627.5,324.2 Q664.5,331.2 704.6,355.3" fill="none" stroke="#000" stroke-width="1.01" /><path d="M629.2,321.6 Q620.5,325 621.3,332.5 Q622,337.5 625,338.8 L627,331.5 Z" fill="#000" stroke="#000" stroke-width="1.34" /><path d="M624.3,338.5 L545.3,537.5 Q590.0,533.0 615.5,555.7 L697.5,360.4 Q661.0,336.5 624.3,338.5 Z" fill="#fff" stroke="#000" stroke-width="0" /><path d="M624.3,338.5 L545.3,537.5 M615.5,555.7 L697.5,360.4" fill="none" stroke="#000" stroke-width="1.46" /><path d="M665.1,353.3 L591.7,534.3" fill="none" stroke="#000" stroke-width="1.23" /><path d="M673.8,356.0 L682.9,357.8 L605.2,541.1 L601.8,538.0Z" fill="#000" stroke="#000" stroke-width="0.5" /><path d="M687.3,357.3 L696.5,357.9 L615.0,552.3 L610.0,544.5Z" fill="#000" stroke="#000" stroke-width="0.5" /><path d="M622.2,332 Q660,333.3 702.8,360.6" fill="none" stroke="#000" stroke-width="1.46" /><path d="M545.6,537.7 C537.8,539.0 536.4,543.5 533.0,548.0 C529.6,552.5 526.9,559.7 525.5,565.0 C524.1,570.3 524.1,575.5 524.4,580.0 C524.7,584.5 525.4,588.4 527.5,592.0 C529.6,595.6 532.3,598.7 537.0,601.5 C541.7,604.3 547.6,606.0 555.6,608.6 C563.6,611.2 576.1,620.1 585.3,617.0 C594.5,613.9 607.4,600.8 611.0,590.0 C614.6,579.2 612.2,560.3 607.0,552.0 C601.8,543.7 590.2,542.4 580.0,540.0 C569.8,537.6 553.4,536.4 545.6,537.7Z" fill="#fff" stroke="#000" stroke-width="0" /><path d="M545.6,537.7 C543.5,539.4 536.4,543.5 533.0,548.0 C529.6,552.5 526.9,559.7 525.5,565.0 C524.1,570.3 524.1,575.5 524.4,580.0 C524.7,584.5 525.4,588.4 527.5,592.0 C529.6,595.6 532.3,598.7 537.0,601.5 C541.7,604.3 549.3,606.4 555.6,608.6 C561.9,610.8 570.1,613.2 575.0,614.6 C579.9,616.0 583.3,616.6 585.0,617.0" fill="none" stroke="#000" stroke-width="1.34" /><path d="M545,538.5 L566.5,548.6 L588,551" fill="none" stroke="#000" stroke-width="1.23" /><path d="M566.5,548.6 Q551,566 549.6,585.3 Q550,596 554.6,604.2" fill="none" stroke="#000" stroke-width="1.12" /><path d="M556.5,537.7 Q575,536 595.2,548.6 L588,549.5 Q570,541.5 556.5,537.7Z" fill="#fff" stroke="#000" stroke-width="0.8" /><path d="M560,538.6 Q575,539.5 590,548.5" fill="none" stroke="#000" stroke-width="3" stroke-dasharray="0.9 0.9" stroke-linecap="butt"/><path d="M545.3,536.5 Q546,531.5 549,529.5 Q585,529 607.1,547.6 Q612,552 613.6,558.5" fill="none" stroke="#000" stroke-width="1.34" /><path d="M549,533.5 Q585,533 604,551.5" fill="none" stroke="#000" stroke-width="1.12" /><ellipse cx="589.3" cy="583.8" rx="21.0" ry="34.0" transform="rotate(14 589.3 583.8)" fill="#fff" stroke="#000" stroke-width="1.23" /><ellipse cx="590.0" cy="584.0" rx="19.0" ry="31.6" transform="rotate(14 590.0 584.0)" fill="#000" stroke="#000" stroke-width="0.8" /><path d="M586.5,568 Q587,586 575,597" fill="none" stroke="#fff" stroke-width="0.8" /><path d="M713.0,150.5 C703.5,144.1 709.6,138.8 709.3,133.1 C709.0,127.4 709.4,122.1 711.1,116.6 C712.8,111.1 715.7,104.3 719.4,100.1 C723.1,95.9 729.0,92.5 733.1,91.4 C737.2,90.3 739.2,91.9 744.1,93.7 C749.0,95.5 756.6,100.4 762.4,102.0 C768.2,103.6 772.7,98.7 779.0,103.4 C785.3,108.1 798.2,119.2 800.0,130.0 C801.8,140.8 795.7,161.1 790.0,168.0 C784.3,174.9 778.8,174.5 766.0,171.6 C753.2,168.7 722.5,156.9 713.0,150.5Z" fill="#fff" stroke="#000" stroke-width="0" /><path d="M713,150.5 Q708,133 711.1,116.6 Q716,98 733.1,91.4 Q739,91.5 744.1,93.7 L762.4,102 L779,103.2" fill="none" stroke="#000" stroke-width="1.34" /><path d="M762.4,102 Q747,117 740.4,135 Q739,146 741.5,158" fill="none" stroke="#000" stroke-width="1.12" /><path d="M712.6,152 L765.6,173" fill="none" stroke="#000" stroke-width="3.2" stroke-dasharray="0.9 0.9" stroke-linecap="butt"/><path d="M698.3,157.8 Q699.5,154.5 704,154.2 L766,173.8 Q771,176 772.5,182.6" fill="none" stroke="#000" stroke-width="1.34" /><ellipse cx="781.2" cy="137.7" rx="21.4" ry="35.2" transform="rotate(13 781.2 137.7)" fill="#fff" stroke="#000" stroke-width="1.23" /><ellipse cx="781.8" cy="137.9" rx="19.4" ry="32.8" transform="rotate(13 781.8 137.9)" fill="#000" stroke="#000" stroke-width="0.8" /><path d="M780.7,115.7 Q781,138 763.3,154.2" fill="none" stroke="#fff" stroke-width="0.8" />
<ellipse cx="604.5" cy="90.7" rx="18.2" ry="31.4" transform="rotate(15 604.5 90.7)" fill="#000" stroke="#000" stroke-width="1.12" /><ellipse cx="607.8" cy="91.0" rx="17.9" ry="30.8" transform="rotate(15 607.8 91.0)" fill="#fff" stroke="#000" stroke-width="1.01" /><ellipse cx="610.2" cy="91.3" rx="13.8" ry="26.5" transform="rotate(15 610.2 91.3)" fill="none" stroke="#000" stroke-width="0.8" /><clipPath id="wc606"><ellipse cx="609.8" cy="91.9" rx="9.4" ry="14.2" transform="rotate(15 609.8 91.9)" fill="#000" stroke="#000" stroke-width="0" /></clipPath><ellipse cx="609.8" cy="91.9" rx="9.4" ry="14.2" transform="rotate(15 609.8 91.9)" fill="#000" stroke="#000" stroke-width="1.12" /><g clip-path="url(#wc606)"><ellipse cx="607.0" cy="91.1" rx="8.8" ry="13.7" transform="rotate(15 607.0 91.1)" fill="#fff" stroke="#000" stroke-width="0" /></g><ellipse cx="426.1" cy="540.4" rx="18.2" ry="31.4" transform="rotate(15 426.1 540.4)" fill="#000" stroke="#000" stroke-width="1.12" /><ellipse cx="429.4" cy="540.7" rx="17.9" ry="30.8" transform="rotate(15 429.4 540.7)" fill="#fff" stroke="#000" stroke-width="1.01" /><ellipse cx="431.8" cy="541.0" rx="13.8" ry="26.5" transform="rotate(15 431.8 541.0)" fill="none" stroke="#000" stroke-width="0.8" /><clipPath id="wc427"><ellipse cx="431.4" cy="541.6" rx="9.4" ry="14.2" transform="rotate(15 431.4 541.6)" fill="#000" stroke="#000" stroke-width="0" /></clipPath><ellipse cx="431.4" cy="541.6" rx="9.4" ry="14.2" transform="rotate(15 431.4 541.6)" fill="#000" stroke="#000" stroke-width="1.12" /><g clip-path="url(#wc427)"><ellipse cx="428.6" cy="540.8" rx="8.8" ry="13.7" transform="rotate(15 428.6 540.8)" fill="#fff" stroke="#000" stroke-width="0" /></g><ellipse cx="903.0" cy="174.5" rx="18.2" ry="31.4" transform="rotate(15 903.0 174.5)" fill="#000" stroke="#000" stroke-width="1.12" /><ellipse cx="906.3" cy="174.8" rx="17.9" ry="30.8" transform="rotate(15 906.3 174.8)" fill="#fff" stroke="#000" stroke-width="1.01" /><ellipse cx="908.7" cy="175.1" rx="13.8" ry="26.5" transform="rotate(15 908.7 175.1)" fill="none" stroke="#000" stroke-width="0.8" /><clipPath id="wc904"><ellipse cx="908.3" cy="175.7" rx="6.8" ry="10.4" transform="rotate(15 908.3 175.7)" fill="#000" stroke="#000" stroke-width="0" /></clipPath><ellipse cx="908.3" cy="175.7" rx="6.8" ry="10.4" transform="rotate(15 908.3 175.7)" fill="#000" stroke="#000" stroke-width="1.12" /><g clip-path="url(#wc904)"><ellipse cx="905.5" cy="174.9" rx="6.2" ry="9.9" transform="rotate(15 905.5 174.9)" fill="#fff" stroke="#000" stroke-width="0" /></g><ellipse cx="705.0" cy="615.2" rx="18.2" ry="31.4" transform="rotate(15 705.0 615.2)" fill="#000" stroke="#000" stroke-width="1.12" /><ellipse cx="708.3" cy="615.5" rx="17.9" ry="30.8" transform="rotate(15 708.3 615.5)" fill="#fff" stroke="#000" stroke-width="1.01" /><ellipse cx="710.7" cy="615.8" rx="13.8" ry="26.5" transform="rotate(15 710.7 615.8)" fill="none" stroke="#000" stroke-width="0.8" /><clipPath id="wc706"><ellipse cx="710.3" cy="616.4" rx="6.8" ry="10.4" transform="rotate(15 710.3 616.4)" fill="#000" stroke="#000" stroke-width="0" /></clipPath><ellipse cx="710.3" cy="616.4" rx="6.8" ry="10.4" transform="rotate(15 710.3 616.4)" fill="#000" stroke="#000" stroke-width="1.12" /><g clip-path="url(#wc706)"><ellipse cx="707.5" cy="615.6" rx="6.2" ry="9.9" transform="rotate(15 707.5 615.6)" fill="#fff" stroke="#000" stroke-width="0" /></g><g transform="translate(671.3,107.7)"><path d="M-15.8,-29.4 C-12.2,-30.9 -7.3,-31.1 -3.5,-31.4 C0.3,-31.7 3.8,-32.0 7.1,-31.0 C10.4,-30.0 12.8,-28.2 16.3,-25.6 C19.8,-23.1 25.4,-19.0 27.8,-15.7 C30.2,-12.4 30.4,-10.2 30.8,-5.8 C31.2,-1.3 31.0,6.1 30.1,11.0 C29.2,15.9 28.1,20.0 25.5,23.3 C22.9,26.6 19.6,29.6 14.8,30.9 C10.0,32.2 1.6,31.6 -3.5,31.2 C-8.6,30.8 -12.0,31.0 -15.8,28.6 C-19.6,26.2 -24.0,21.3 -26.5,17.1 C-29.0,12.9 -30.2,8.2 -30.7,3.4 C-31.2,-1.4 -30.5,-7.6 -29.5,-11.9 C-28.5,-16.2 -27.2,-19.7 -24.9,-22.6 C-22.6,-25.5 -19.4,-27.9 -15.8,-29.4Z" fill="#000" stroke="#000" stroke-width="1.12" /><path d="M-9,-29.4 Q-33.7,-5.4 -20.4,23.3" fill="none" stroke="#fff" stroke-width="0.8"/><path d="M16.3,-21.8 Q-12.8,3.4 4.1,28.6" fill="none" stroke="#fff" stroke-width="0.8"/><ellipse cx="15.2" cy="6.3" rx="8.8" ry="13.1" transform="rotate(12 15.2 6.3)" fill="none" stroke="#fff" stroke-width="0.9"/><rect x="-14.0" y="-4.6" width="1.2" height="0.7" fill="#ccc"/><rect x="-18.4" y="8.6" width="0.8" height="0.6" fill="#ccc"/><rect x="-1.8" y="-9.1" width="1.3" height="0.8" fill="#ccc"/><rect x="-15.8" y="15.9" width="2.0" height="1.0" fill="#ccc"/><rect x="-5.3" y="-1.3" width="1.4" height="0.6" fill="#ccc"/><rect x="-17.8" y="7.2" width="1.4" height="0.7" fill="#ccc"/><rect x="-26.0" y="-2.5" width="1.1" height="0.9" fill="#ccc"/><rect x="-11.0" y="9.4" width="1.9" height="0.5" fill="#ccc"/><rect x="-12.4" y="-5.4" width="1.4" height="1.0" fill="#ccc"/><rect x="-18.5" y="-7.7" width="1.2" height="0.7" fill="#ccc"/><rect x="-9.6" y="9.6" width="0.9" height="0.8" fill="#ccc"/><rect x="-9.3" y="-3.6" width="1.1" height="0.7" fill="#ccc"/><rect x="-15.3" y="2.4" width="1.9" height="0.8" fill="#ccc"/><rect x="-13.4" y="-0.6" width="1.2" height="0.9" fill="#ccc"/><rect x="-12.7" y="4.5" width="1.0" height="0.7" fill="#ccc"/><rect x="-21.2" y="-14.0" width="1.0" height="0.8" fill="#ccc"/><rect x="-15.6" y="5.6" width="1.2" height="0.6" fill="#ccc"/><rect x="-10.4" y="-6.3" width="1.6" height="0.5" fill="#ccc"/><rect x="-17.3" y="-8.3" width="1.8" height="0.9" fill="#ccc"/><rect x="-15.1" y="10.1" width="1.1" height="0.7" fill="#ccc"/><rect x="-6.8" y="1.4" width="1.9" height="0.8" fill="#ccc"/><rect x="-17.2" y="6.4" width="0.7" height="0.8" fill="#ccc"/><rect x="-22.5" y="-10.6" width="1.6" height="0.6" fill="#ccc"/><rect x="-9.3" y="-4.8" width="1.4" height="0.6" fill="#ccc"/><rect x="-10.0" y="3.2" width="1.3" height="0.6" fill="#ccc"/><rect x="-14.6" y="-0.7" width="2.0" height="1.0" fill="#ccc"/><rect x="-11.4" y="-7.1" width="1.6" height="0.9" fill="#ccc"/><rect x="-22.2" y="10.0" width="1.0" height="0.5" fill="#ccc"/><rect x="-15.8" y="-1.9" width="1.6" height="0.8" fill="#ccc"/><rect x="-23.6" y="14.2" width="1.3" height="0.7" fill="#ccc"/><rect x="-12.2" y="-3.2" width="1.4" height="0.6" fill="#ccc"/><rect x="-17.2" y="9.7" width="1.0" height="0.5" fill="#ccc"/><rect x="-19.7" y="-9.3" width="0.7" height="0.8" fill="#ccc"/><rect x="-13.1" y="4.2" width="0.9" height="0.9" fill="#ccc"/><rect x="-14.2" y="2.3" width="1.5" height="0.8" fill="#ccc"/><rect x="-13.7" y="-3.5" width="1.2" height="0.9" fill="#ccc"/><rect x="-10.9" y="8.5" width="0.9" height="0.5" fill="#ccc"/><rect x="-16.2" y="3.0" width="0.9" height="0.9" fill="#ccc"/><rect x="-13.6" y="-19.4" width="1.6" height="0.8" fill="#ccc"/><rect x="-14.1" y="4.9" width="0.8" height="0.9" fill="#ccc"/><rect x="-16.2" y="6.1" width="0.9" height="0.9" fill="#ccc"/><rect x="-13.6" y="-4.1" width="1.9" height="0.6" fill="#ccc"/><rect x="-9.4" y="6.3" width="1.3" height="0.9" fill="#ccc"/><rect x="-10.4" y="-4.8" width="1.0" height="0.8" fill="#ccc"/><rect x="-25.5" y="0.1" width="1.5" height="0.9" fill="#ccc"/><rect x="-16.3" y="15.0" width="1.5" height="0.6" fill="#ccc"/><rect x="-7.9" y="4.8" width="0.9" height="1.0" fill="#ccc"/><rect x="-10.6" y="1.8" width="1.4" height="0.7" fill="#ccc"/><rect x="-17.3" y="2.1" width="0.8" height="0.7" fill="#ccc"/><rect x="-12.8" y="4.1" width="0.8" height="0.8" fill="#ccc"/><rect x="-10.3" y="1.6" width="1.4" height="0.9" fill="#ccc"/><rect x="-7.5" y="-13.8" width="2.0" height="0.6" fill="#ccc"/><rect x="-14.4" y="-8.0" width="1.5" height="0.9" fill="#ccc"/><rect x="-18.6" y="-10.6" width="1.6" height="0.7" fill="#ccc"/><rect x="-20.2" y="-5.5" width="1.9" height="0.9" fill="#ccc"/><rect x="-24.2" y="10.6" width="0.7" height="0.7" fill="#ccc"/><rect x="-9.4" y="-5.7" width="1.1" height="0.9" fill="#ccc"/><rect x="-24.8" y="-5.6" width="0.9" height="0.8" fill="#ccc"/><rect x="-21.9" y="13.0" width="1.6" height="0.9" fill="#ccc"/><rect x="-14.1" y="-15.9" width="1.9" height="1.0" fill="#ccc"/><rect x="-15.0" y="10.8" width="0.7" height="0.8" fill="#ccc"/><rect x="-19.5" y="-3.3" width="1.0" height="0.9" fill="#ccc"/><rect x="-20.1" y="-10.2" width="1.7" height="0.8" fill="#ccc"/><rect x="-15.4" y="5.4" width="0.7" height="0.5" fill="#ccc"/><rect x="-12.5" y="-9.4" width="1.9" height="0.6" fill="#ccc"/><rect x="-18.5" y="12.8" width="1.0" height="0.6" fill="#ccc"/><rect x="-9.9" y="10.3" width="1.7" height="0.9" fill="#ccc"/><rect x="-13.7" y="-3.2" width="0.9" height="0.7" fill="#ccc"/><rect x="-6.8" y="-1.5" width="1.3" height="0.9" fill="#ccc"/><rect x="-25.9" y="0.9" width="1.7" height="0.6" fill="#ccc"/><rect x="-15.5" y="-5.0" width="1.5" height="0.7" fill="#ccc"/><rect x="-13.4" y="-4.4" width="0.8" height="1.0" fill="#ccc"/><rect x="-16.9" y="-2.4" width="1.7" height="0.8" fill="#ccc"/><rect x="-13.4" y="-18.9" width="1.4" height="0.8" fill="#ccc"/><rect x="-13.1" y="1.8" width="0.8" height="0.6" fill="#ccc"/><rect x="-1.4" y="-5.5" width="1.4" height="0.6" fill="#ccc"/><rect x="-16.6" y="-3.8" width="1.8" height="0.8" fill="#ccc"/><rect x="-16.2" y="-9.8" width="1.4" height="0.5" fill="#ccc"/><rect x="-15.2" y="8.7" width="1.5" height="0.6" fill="#ccc"/><rect x="-15.4" y="7.4" width="1.3" height="0.7" fill="#ccc"/><rect x="-15.2" y="-3.3" width="0.9" height="0.9" fill="#ccc"/><rect x="-17.7" y="2.3" width="1.0" height="0.6" fill="#ccc"/><rect x="-18.3" y="6.7" width="2.0" height="0.8" fill="#ccc"/><rect x="-19.3" y="-2.1" width="1.2" height="0.8" fill="#ccc"/><rect x="-16.4" y="-0.0" width="1.3" height="0.8" fill="#ccc"/><rect x="-12.8" y="-8.7" width="1.9" height="0.9" fill="#ccc"/><rect x="-21.1" y="3.9" width="1.2" height="0.6" fill="#ccc"/><rect x="-12.5" y="4.4" width="1.3" height="0.6" fill="#ccc"/><rect x="-15.6" y="-0.4" width="1.5" height="0.6" fill="#ccc"/><rect x="-13.2" y="3.0" width="1.2" height="1.0" fill="#ccc"/><rect x="-9.7" y="7.9" width="1.2" height="0.5" fill="#ccc"/><rect x="-11.8" y="0.8" width="0.9" height="0.9" fill="#ccc"/><rect x="-11.1" y="5.2" width="1.9" height="1.0" fill="#ccc"/><rect x="-21.0" y="5.2" width="1.1" height="1.0" fill="#ccc"/><rect x="-20.5" y="9.3" width="1.6" height="0.7" fill="#ccc"/><rect x="-18.7" y="1.8" width="1.1" height="0.7" fill="#ccc"/><rect x="-11.1" y="-10.1" width="1.1" height="0.9" fill="#ccc"/><rect x="-11.5" y="-2.5" width="1.5" height="0.5" fill="#ccc"/><rect x="-13.0" y="-7.9" width="1.2" height="0.6" fill="#ccc"/><rect x="-10.5" y="-10.4" width="1.7" height="1.0" fill="#ccc"/><rect x="-8.3" y="-2.3" width="0.7" height="0.9" fill="#ccc"/><rect x="-3.9" y="-1.7" width="1.6" height="0.8" fill="#ccc"/><rect x="-11.7" y="0.7" width="1.8" height="0.8" fill="#ccc"/><rect x="-12.3" y="2.2" width="1.2" height="0.6" fill="#ccc"/><rect x="-12.0" y="-4.9" width="1.8" height="1.0" fill="#ccc"/><rect x="-15.8" y="-17.3" width="1.1" height="0.8" fill="#ccc"/><rect x="-11.7" y="-9.6" width="1.4" height="1.0" fill="#ccc"/><rect x="-8.1" y="-2.2" width="0.9" height="0.9" fill="#ccc"/><rect x="-21.2" y="6.9" width="1.8" height="0.8" fill="#ccc"/><rect x="-10.9" y="13.2" width="1.2" height="0.7" fill="#ccc"/><rect x="-14.5" y="1.1" width="1.1" height="0.8" fill="#ccc"/><rect x="-18.0" y="7.2" width="1.6" height="0.6" fill="#ccc"/><rect x="-19.0" y="-3.2" width="1.7" height="0.6" fill="#ccc"/><rect x="-16.1" y="-9.9" width="1.3" height="0.9" fill="#ccc"/><rect x="-9.8" y="6.6" width="2.0" height="0.6" fill="#ccc"/><rect x="-5.6" y="-0.7" width="1.6" height="0.6" fill="#ccc"/><rect x="-16.9" y="5.4" width="1.4" height="0.5" fill="#ccc"/><rect x="-24.5" y="-3.9" width="0.9" height="0.8" fill="#ccc"/><rect x="-16.6" y="6.4" width="1.7" height="0.6" fill="#ccc"/><rect x="-19.2" y="-6.0" width="1.3" height="0.5" fill="#ccc"/><rect x="-16.7" y="2.7" width="1.4" height="0.9" fill="#ccc"/><rect x="-23.2" y="-5.5" width="0.8" height="0.9" fill="#ccc"/><rect x="-19.8" y="-9.4" width="1.5" height="0.7" fill="#ccc"/><rect x="-14.9" y="5.1" width="1.7" height="1.0" fill="#ccc"/><rect x="-22.4" y="-3.8" width="1.2" height="0.7" fill="#ccc"/><rect x="-7.3" y="7.1" width="1.2" height="0.8" fill="#ccc"/><rect x="-13.9" y="2.8" width="1.9" height="0.9" fill="#ccc"/><rect x="-15.5" y="1.7" width="1.2" height="0.9" fill="#ccc"/><rect x="-19.1" y="-3.2" width="1.0" height="0.7" fill="#ccc"/><rect x="-14.0" y="-4.1" width="1.3" height="0.8" fill="#ccc"/><rect x="-19.5" y="-9.7" width="1.2" height="0.6" fill="#ccc"/><rect x="-11.1" y="9.6" width="1.2" height="0.8" fill="#ccc"/><rect x="-17.5" y="-12.8" width="0.8" height="0.7" fill="#ccc"/><rect x="-21.4" y="-3.4" width="1.3" height="0.7" fill="#ccc"/><rect x="-16.1" y="3.3" width="1.0" height="0.8" fill="#ccc"/><rect x="-21.7" y="5.7" width="1.8" height="0.9" fill="#ccc"/><rect x="-22.1" y="-1.2" width="1.3" height="0.5" fill="#ccc"/><rect x="-23.0" y="-6.5" width="1.7" height="0.7" fill="#ccc"/><rect x="-16.4" y="18.1" width="1.2" height="0.6" fill="#ccc"/><rect x="-9.4" y="-0.2" width="0.9" height="0.9" fill="#ccc"/><rect x="-15.4" y="2.2" width="1.3" height="0.9" fill="#ccc"/></g><g transform="translate(841,156.6)"><path d="M-15.8,-29.4 C-12.2,-30.9 -7.3,-31.1 -3.5,-31.4 C0.3,-31.7 3.8,-32.0 7.1,-31.0 C10.4,-30.0 12.8,-28.2 16.3,-25.6 C19.8,-23.1 25.4,-19.0 27.8,-15.7 C30.2,-12.4 30.4,-10.2 30.8,-5.8 C31.2,-1.3 31.0,6.1 30.1,11.0 C29.2,15.9 28.1,20.0 25.5,23.3 C22.9,26.6 19.6,29.6 14.8,30.9 C10.0,32.2 1.6,31.6 -3.5,31.2 C-8.6,30.8 -12.0,31.0 -15.8,28.6 C-19.6,26.2 -24.0,21.3 -26.5,17.1 C-29.0,12.9 -30.2,8.2 -30.7,3.4 C-31.2,-1.4 -30.5,-7.6 -29.5,-11.9 C-28.5,-16.2 -27.2,-19.7 -24.9,-22.6 C-22.6,-25.5 -19.4,-27.9 -15.8,-29.4Z" fill="#000" stroke="#000" stroke-width="1.12" /><path d="M1.5,-27.6 Q-21.0,-7.6 -12.2,16.5" fill="none" stroke="#fff" stroke-width="0.8"/><path d="M22.5,-23.4 Q-15.8,-7.7 6.7,29.1" fill="none" stroke="#fff" stroke-width="0.8"/><ellipse cx="15.8" cy="6.0" rx="8.2" ry="13.1" transform="rotate(12 15.8 6.0)" fill="none" stroke="#fff" stroke-width="0.9"/><rect x="-23.2" y="-6.5" width="1.5" height="0.6" fill="#ccc"/><rect x="-10.9" y="-1.2" width="1.9" height="0.8" fill="#ccc"/><rect x="-18.9" y="-11.2" width="1.2" height="0.8" fill="#ccc"/><rect x="-22.0" y="-15.0" width="1.8" height="0.7" fill="#ccc"/><rect x="-10.1" y="-11.1" width="1.7" height="0.8" fill="#ccc"/><rect x="-1.1" y="-12.7" width="0.9" height="0.7" fill="#ccc"/><rect x="-15.2" y="3.6" width="0.8" height="1.0" fill="#ccc"/><rect x="-4.9" y="0.2" width="0.8" height="0.8" fill="#ccc"/><rect x="-11.5" y="8.2" width="1.3" height="0.7" fill="#ccc"/><rect x="-21.0" y="18.0" width="1.0" height="1.0" fill="#ccc"/><rect x="-21.5" y="9.7" width="1.7" height="0.7" fill="#ccc"/><rect x="-6.5" y="-20.0" width="0.8" height="0.7" fill="#ccc"/><rect x="-23.9" y="-16.6" width="1.0" height="0.9" fill="#ccc"/><rect x="-10.6" y="-8.2" width="1.5" height="0.6" fill="#ccc"/><rect x="-13.2" y="-19.1" width="0.8" height="0.6" fill="#ccc"/><rect x="-17.2" y="-1.8" width="1.6" height="0.8" fill="#ccc"/><rect x="-10.7" y="10.0" width="1.4" height="1.0" fill="#ccc"/><rect x="-16.2" y="6.9" width="1.0" height="0.7" fill="#ccc"/><rect x="-17.4" y="-9.7" width="1.1" height="0.9" fill="#ccc"/><rect x="-8.6" y="13.5" width="1.1" height="0.8" fill="#ccc"/><rect x="-18.7" y="2.2" width="1.0" height="1.0" fill="#ccc"/><rect x="-25.0" y="-10.4" width="1.5" height="0.5" fill="#ccc"/><rect x="-4.4" y="8.6" width="1.0" height="0.9" fill="#ccc"/><rect x="-8.5" y="-3.6" width="1.7" height="0.7" fill="#ccc"/><rect x="-14.6" y="1.6" width="1.5" height="0.6" fill="#ccc"/><rect x="-18.8" y="3.9" width="1.2" height="0.7" fill="#ccc"/><rect x="-9.8" y="-2.7" width="1.3" height="0.9" fill="#ccc"/><rect x="-17.2" y="-0.3" width="1.0" height="0.5" fill="#ccc"/><rect x="-11.9" y="1.6" width="1.8" height="0.8" fill="#ccc"/><rect x="-15.4" y="3.1" width="1.7" height="0.8" fill="#ccc"/><rect x="-13.3" y="8.3" width="1.8" height="0.9" fill="#ccc"/><rect x="-15.8" y="3.2" width="1.4" height="0.8" fill="#ccc"/><rect x="-19.0" y="7.1" width="1.8" height="0.9" fill="#ccc"/><rect x="-16.9" y="-9.1" width="1.4" height="0.8" fill="#ccc"/><rect x="-9.9" y="0.4" width="1.1" height="0.6" fill="#ccc"/><rect x="-6.8" y="9.6" width="1.7" height="0.9" fill="#ccc"/><rect x="-15.4" y="-4.7" width="1.1" height="0.7" fill="#ccc"/><rect x="-7.4" y="-6.2" width="0.9" height="0.7" fill="#ccc"/><rect x="-5.3" y="3.9" width="1.9" height="0.6" fill="#ccc"/><rect x="-10.3" y="-11.8" width="1.0" height="0.7" fill="#ccc"/><rect x="-12.9" y="2.8" width="1.7" height="0.6" fill="#ccc"/><rect x="-14.2" y="15.4" width="1.5" height="1.0" fill="#ccc"/><rect x="-16.0" y="4.6" width="2.0" height="0.9" fill="#ccc"/><rect x="-15.9" y="0.3" width="1.0" height="0.8" fill="#ccc"/><rect x="-14.8" y="10.1" width="1.4" height="0.9" fill="#ccc"/><rect x="-17.4" y="-5.1" width="1.8" height="0.8" fill="#ccc"/><rect x="-6.3" y="0.6" width="0.7" height="0.9" fill="#ccc"/><rect x="-15.1" y="-1.3" width="1.3" height="0.8" fill="#ccc"/><rect x="-17.6" y="9.6" width="1.2" height="0.6" fill="#ccc"/><rect x="-16.2" y="-4.9" width="1.9" height="0.8" fill="#ccc"/><rect x="-17.2" y="-5.3" width="0.9" height="0.8" fill="#ccc"/><rect x="-11.5" y="-2.9" width="1.5" height="0.8" fill="#ccc"/><rect x="-15.2" y="-7.5" width="1.6" height="0.9" fill="#ccc"/><rect x="-21.7" y="16.7" width="1.3" height="0.9" fill="#ccc"/><rect x="-16.4" y="-5.3" width="1.6" height="0.8" fill="#ccc"/><rect x="-5.1" y="-6.3" width="1.0" height="0.7" fill="#ccc"/><rect x="-17.4" y="8.2" width="1.5" height="0.6" fill="#ccc"/><rect x="-10.0" y="10.0" width="1.7" height="0.7" fill="#ccc"/><rect x="-12.5" y="0.7" width="1.9" height="0.5" fill="#ccc"/><rect x="-14.5" y="-3.2" width="0.9" height="0.8" fill="#ccc"/><rect x="-22.8" y="-3.1" width="1.4" height="1.0" fill="#ccc"/><rect x="-12.6" y="3.1" width="1.2" height="0.6" fill="#ccc"/><rect x="-16.1" y="-6.5" width="1.4" height="0.6" fill="#ccc"/><rect x="-19.4" y="3.1" width="1.1" height="0.8" fill="#ccc"/><rect x="-3.2" y="-8.1" width="1.4" height="1.0" fill="#ccc"/><rect x="-5.2" y="-4.8" width="0.8" height="0.8" fill="#ccc"/><rect x="-11.6" y="-0.1" width="0.9" height="0.7" fill="#ccc"/><rect x="-15.0" y="2.3" width="1.9" height="0.6" fill="#ccc"/><rect x="-21.8" y="-10.7" width="1.5" height="0.8" fill="#ccc"/><rect x="-12.2" y="6.7" width="1.2" height="0.9" fill="#ccc"/><rect x="-1.4" y="-0.5" width="1.7" height="0.7" fill="#ccc"/><rect x="-5.9" y="-3.3" width="0.9" height="1.0" fill="#ccc"/><rect x="-14.7" y="2.9" width="1.2" height="1.0" fill="#ccc"/><rect x="-15.3" y="-3.8" width="0.9" height="0.5" fill="#ccc"/><rect x="-11.7" y="-13.0" width="1.5" height="1.0" fill="#ccc"/><rect x="-7.6" y="13.6" width="0.8" height="0.6" fill="#ccc"/><rect x="-19.4" y="-4.0" width="0.9" height="0.9" fill="#ccc"/><rect x="-20.1" y="11.2" width="1.9" height="0.8" fill="#ccc"/><rect x="-24.2" y="-1.9" width="1.0" height="1.0" fill="#ccc"/><rect x="-20.1" y="-12.5" width="1.9" height="0.8" fill="#ccc"/><rect x="-20.3" y="14.5" width="1.2" height="0.9" fill="#ccc"/><rect x="-11.7" y="-7.8" width="1.0" height="0.7" fill="#ccc"/><rect x="-13.0" y="-2.2" width="0.8" height="0.6" fill="#ccc"/><rect x="-17.2" y="6.8" width="1.6" height="0.6" fill="#ccc"/><rect x="-7.4" y="17.4" width="0.8" height="0.8" fill="#ccc"/><rect x="-14.2" y="-0.6" width="1.7" height="0.8" fill="#ccc"/><rect x="-8.3" y="9.9" width="1.5" height="0.8" fill="#ccc"/><rect x="-13.6" y="3.9" width="1.9" height="0.8" fill="#ccc"/><rect x="-9.2" y="6.2" width="0.9" height="0.9" fill="#ccc"/><rect x="-23.8" y="-5.1" width="0.8" height="0.6" fill="#ccc"/><rect x="-16.7" y="-7.5" width="1.9" height="0.6" fill="#ccc"/><rect x="-19.5" y="-8.0" width="1.9" height="1.0" fill="#ccc"/><rect x="-17.3" y="-2.0" width="1.2" height="0.9" fill="#ccc"/><rect x="-15.5" y="1.1" width="1.8" height="1.0" fill="#ccc"/><rect x="-8.7" y="2.6" width="1.7" height="0.9" fill="#ccc"/><rect x="-24.3" y="-10.6" width="1.3" height="0.5" fill="#ccc"/><rect x="-16.9" y="-17.5" width="1.4" height="0.5" fill="#ccc"/><rect x="-17.8" y="-3.8" width="1.0" height="0.6" fill="#ccc"/><rect x="-8.9" y="-14.2" width="1.6" height="0.7" fill="#ccc"/><rect x="-12.9" y="16.6" width="1.1" height="0.8" fill="#ccc"/><rect x="-8.8" y="-12.1" width="1.0" height="0.7" fill="#ccc"/><rect x="-13.5" y="17.6" width="1.7" height="0.7" fill="#ccc"/><rect x="-12.2" y="0.7" width="1.2" height="0.6" fill="#ccc"/><rect x="-9.2" y="-12.2" width="1.5" height="0.8" fill="#ccc"/><rect x="-9.0" y="4.2" width="1.2" height="0.7" fill="#ccc"/><rect x="-11.5" y="-3.7" width="1.6" height="0.5" fill="#ccc"/><rect x="-11.5" y="-7.7" width="1.9" height="0.7" fill="#ccc"/><rect x="-9.6" y="10.0" width="1.7" height="1.0" fill="#ccc"/><rect x="-16.3" y="2.4" width="2.0" height="0.9" fill="#ccc"/><rect x="-11.6" y="-3.5" width="1.8" height="0.8" fill="#ccc"/><rect x="-15.1" y="13.3" width="1.9" height="1.0" fill="#ccc"/><rect x="-17.6" y="7.3" width="1.0" height="0.6" fill="#ccc"/><rect x="-15.8" y="-5.6" width="0.7" height="0.8" fill="#ccc"/><rect x="-18.0" y="-8.0" width="1.6" height="0.6" fill="#ccc"/><rect x="-20.1" y="-3.5" width="0.8" height="1.0" fill="#ccc"/><rect x="-18.0" y="-0.8" width="1.1" height="0.8" fill="#ccc"/><rect x="-18.4" y="7.0" width="1.1" height="0.8" fill="#ccc"/><rect x="-24.0" y="5.3" width="1.3" height="0.6" fill="#ccc"/><rect x="-19.9" y="0.9" width="2.0" height="0.7" fill="#ccc"/><rect x="-22.2" y="-7.7" width="1.8" height="0.9" fill="#ccc"/><rect x="-15.4" y="11.0" width="1.9" height="0.6" fill="#ccc"/><rect x="-12.8" y="5.0" width="1.6" height="0.9" fill="#ccc"/><rect x="-11.9" y="-15.9" width="1.3" height="0.8" fill="#ccc"/><rect x="-16.6" y="-12.0" width="0.8" height="0.9" fill="#ccc"/><rect x="-25.0" y="-3.2" width="0.8" height="0.5" fill="#ccc"/><rect x="-19.2" y="-7.9" width="1.4" height="0.7" fill="#ccc"/><rect x="-13.1" y="1.7" width="1.9" height="0.9" fill="#ccc"/><rect x="-15.8" y="-1.9" width="0.8" height="0.7" fill="#ccc"/><rect x="-18.8" y="-7.5" width="1.1" height="0.8" fill="#ccc"/><rect x="-7.2" y="10.3" width="0.9" height="0.9" fill="#ccc"/><rect x="-20.2" y="-16.1" width="1.9" height="0.6" fill="#ccc"/><rect x="-23.3" y="1.3" width="1.3" height="0.9" fill="#ccc"/><rect x="-12.3" y="-3.5" width="0.9" height="0.9" fill="#ccc"/><rect x="-24.8" y="-12.9" width="1.8" height="0.8" fill="#ccc"/><rect x="-20.8" y="13.7" width="1.3" height="0.7" fill="#ccc"/><rect x="-17.6" y="14.7" width="1.7" height="0.7" fill="#ccc"/><rect x="-18.3" y="1.5" width="1.4" height="0.9" fill="#ccc"/><rect x="-17.6" y="13.7" width="1.6" height="0.7" fill="#ccc"/><rect x="-15.1" y="-6.6" width="1.6" height="0.7" fill="#ccc"/><rect x="-8.3" y="-0.7" width="1.8" height="0.9" fill="#ccc"/><rect x="-22.6" y="14.6" width="1.1" height="1.0" fill="#ccc"/></g><g transform="translate(489.6,554.8)"><path d="M-15.8,-29.4 C-12.2,-30.9 -7.3,-31.1 -3.5,-31.4 C0.3,-31.7 3.8,-32.0 7.1,-31.0 C10.4,-30.0 12.8,-28.2 16.3,-25.6 C19.8,-23.1 25.4,-19.0 27.8,-15.7 C30.2,-12.4 30.4,-10.2 30.8,-5.8 C31.2,-1.3 31.0,6.1 30.1,11.0 C29.2,15.9 28.1,20.0 25.5,23.3 C22.9,26.6 19.6,29.6 14.8,30.9 C10.0,32.2 1.6,31.6 -3.5,31.2 C-8.6,30.8 -12.0,31.0 -15.8,28.6 C-19.6,26.2 -24.0,21.3 -26.5,17.1 C-29.0,12.9 -30.2,8.2 -30.7,3.4 C-31.2,-1.4 -30.5,-7.6 -29.5,-11.9 C-28.5,-16.2 -27.2,-19.7 -24.9,-22.6 C-22.6,-25.5 -19.4,-27.9 -15.8,-29.4Z" fill="#000" stroke="#000" stroke-width="1.12" /><path d="M-9,-29.4 Q-27.0,-5.4 -17,23.3" fill="none" stroke="#fff" stroke-width="0.8"/><path d="M14,-24 Q-4.0,4.5 6,28.6" fill="none" stroke="#fff" stroke-width="0.8"/><ellipse cx="15.5" cy="7" rx="7" ry="11" transform="rotate(12 15.5 7)" fill="none" stroke="#fff" stroke-width="0.9" stroke-dasharray="3 2"/><rect x="-11.5" y="-2.1" width="1.3" height="0.9" fill="#ccc"/><rect x="-8.6" y="-15.7" width="1.3" height="1.0" fill="#ccc"/><rect x="-9.6" y="2.8" width="1.9" height="1.0" fill="#ccc"/><rect x="-14.8" y="-6.2" width="0.9" height="0.5" fill="#ccc"/><rect x="-8.4" y="-11.7" width="1.9" height="0.6" fill="#ccc"/><rect x="-8.8" y="9.9" width="0.7" height="0.7" fill="#ccc"/><rect x="-11.5" y="2.8" width="1.1" height="0.8" fill="#ccc"/><rect x="-10.6" y="0.9" width="0.7" height="0.9" fill="#ccc"/><rect x="-2.5" y="-5.9" width="2.0" height="0.8" fill="#ccc"/><rect x="-11.2" y="0.3" width="1.7" height="0.7" fill="#ccc"/><rect x="-15.4" y="2.6" width="0.7" height="0.6" fill="#ccc"/><rect x="-13.4" y="9.0" width="1.0" height="0.9" fill="#ccc"/><rect x="-22.4" y="8.4" width="1.2" height="0.8" fill="#ccc"/><rect x="-12.3" y="15.6" width="1.5" height="0.6" fill="#ccc"/><rect x="-16.5" y="-0.7" width="0.7" height="1.0" fill="#ccc"/><rect x="-11.6" y="5.0" width="1.4" height="0.8" fill="#ccc"/><rect x="-17.8" y="6.8" width="1.0" height="0.8" fill="#ccc"/><rect x="-17.7" y="6.1" width="1.7" height="0.7" fill="#ccc"/><rect x="-9.6" y="-10.7" width="1.5" height="0.9" fill="#ccc"/><rect x="-12.9" y="6.9" width="1.9" height="0.6" fill="#ccc"/><rect x="-25.3" y="6.5" width="1.9" height="0.6" fill="#ccc"/><rect x="-22.6" y="-0.1" width="1.2" height="0.6" fill="#ccc"/><rect x="-23.4" y="-19.1" width="1.1" height="0.8" fill="#ccc"/><rect x="-3.9" y="1.8" width="1.7" height="0.8" fill="#ccc"/><rect x="-3.1" y="0.0" width="1.8" height="0.8" fill="#ccc"/><rect x="-9.0" y="6.5" width="1.6" height="0.8" fill="#ccc"/><rect x="-14.2" y="13.4" width="1.5" height="0.8" fill="#ccc"/><rect x="-12.4" y="16.4" width="1.9" height="1.0" fill="#ccc"/><rect x="-10.9" y="3.0" width="0.8" height="0.6" fill="#ccc"/><rect x="-16.9" y="8.1" width="1.0" height="0.9" fill="#ccc"/><rect x="-10.3" y="-12.0" width="1.1" height="0.7" fill="#ccc"/><rect x="-15.0" y="0.5" width="0.7" height="0.5" fill="#ccc"/><rect x="-7.6" y="-14.1" width="0.8" height="0.7" fill="#ccc"/><rect x="-6.1" y="-0.8" width="1.6" height="1.0" fill="#ccc"/><rect x="-1.1" y="-0.9" width="1.2" height="0.9" fill="#ccc"/><rect x="-13.5" y="-1.3" width="1.7" height="0.8" fill="#ccc"/><rect x="-9.8" y="13.5" width="1.4" height="0.6" fill="#ccc"/><rect x="-9.5" y="-3.0" width="1.0" height="0.6" fill="#ccc"/><rect x="-11.8" y="3.3" width="1.8" height="0.7" fill="#ccc"/><rect x="-21.6" y="6.5" width="1.4" height="0.6" fill="#ccc"/><rect x="-18.6" y="5.3" width="1.4" height="0.7" fill="#ccc"/><rect x="-25.7" y="-2.0" width="1.4" height="0.7" fill="#ccc"/><rect x="-18.9" y="3.8" width="1.0" height="0.7" fill="#ccc"/><rect x="-23.3" y="4.4" width="1.5" height="1.0" fill="#ccc"/><rect x="-12.6" y="-1.4" width="1.6" height="0.7" fill="#ccc"/><rect x="-7.7" y="-1.5" width="1.7" height="1.0" fill="#ccc"/><rect x="-19.3" y="16.2" width="1.8" height="0.8" fill="#ccc"/><rect x="-23.4" y="10.0" width="1.0" height="0.6" fill="#ccc"/><rect x="-6.8" y="11.9" width="1.9" height="0.6" fill="#ccc"/><rect x="-8.3" y="-5.9" width="1.2" height="0.7" fill="#ccc"/><rect x="-6.2" y="-2.9" width="1.1" height="0.9" fill="#ccc"/><rect x="-15.8" y="12.9" width="1.6" height="1.0" fill="#ccc"/><rect x="-19.6" y="0.8" width="1.4" height="0.7" fill="#ccc"/><rect x="-12.0" y="2.8" width="1.2" height="0.5" fill="#ccc"/><rect x="-17.7" y="19.3" width="0.8" height="1.0" fill="#ccc"/><rect x="-18.6" y="10.9" width="1.3" height="0.7" fill="#ccc"/><rect x="-14.9" y="4.8" width="0.8" height="0.5" fill="#ccc"/><rect x="-22.8" y="2.6" width="1.0" height="0.8" fill="#ccc"/><rect x="-20.2" y="-12.3" width="0.9" height="0.9" fill="#ccc"/><rect x="-19.5" y="3.8" width="0.9" height="0.8" fill="#ccc"/><rect x="-20.6" y="-10.6" width="1.4" height="0.6" fill="#ccc"/><rect x="-15.2" y="-5.7" width="0.8" height="0.5" fill="#ccc"/><rect x="-8.4" y="-13.3" width="1.6" height="0.5" fill="#ccc"/><rect x="-9.1" y="2.5" width="0.7" height="1.0" fill="#ccc"/><rect x="-8.1" y="6.4" width="0.9" height="0.6" fill="#ccc"/><rect x="-22.7" y="-3.1" width="1.9" height="0.7" fill="#ccc"/><rect x="-17.0" y="-0.6" width="1.5" height="0.5" fill="#ccc"/><rect x="-9.3" y="-7.9" width="1.7" height="0.5" fill="#ccc"/><rect x="-18.2" y="3.5" width="1.3" height="0.7" fill="#ccc"/><rect x="-18.3" y="-4.9" width="1.9" height="0.9" fill="#ccc"/><rect x="-10.7" y="-11.7" width="1.0" height="0.7" fill="#ccc"/><rect x="-17.6" y="-10.2" width="1.3" height="0.8" fill="#ccc"/><rect x="-9.5" y="16.0" width="0.9" height="1.0" fill="#ccc"/><rect x="-18.9" y="9.7" width="1.3" height="0.5" fill="#ccc"/><rect x="-4.9" y="6.8" width="1.0" height="0.9" fill="#ccc"/><rect x="-12.9" y="7.5" width="1.5" height="0.7" fill="#ccc"/><rect x="-17.8" y="-9.4" width="1.3" height="0.8" fill="#ccc"/><rect x="-11.1" y="2.3" width="1.0" height="0.5" fill="#ccc"/><rect x="-24.4" y="-6.9" width="1.8" height="0.8" fill="#ccc"/><rect x="-11.5" y="0.7" width="1.5" height="0.8" fill="#ccc"/><rect x="-20.8" y="-3.7" width="1.1" height="0.8" fill="#ccc"/><rect x="-5.2" y="3.8" width="1.1" height="0.9" fill="#ccc"/><rect x="-19.6" y="4.0" width="1.5" height="0.8" fill="#ccc"/><rect x="-10.2" y="9.7" width="1.4" height="0.5" fill="#ccc"/><rect x="-23.8" y="-5.0" width="0.8" height="0.9" fill="#ccc"/><rect x="-23.5" y="5.8" width="1.2" height="0.7" fill="#ccc"/><rect x="-16.3" y="0.1" width="0.8" height="0.8" fill="#ccc"/><rect x="-13.6" y="10.3" width="2.0" height="0.6" fill="#ccc"/><rect x="-14.1" y="-4.2" width="0.9" height="0.8" fill="#ccc"/><rect x="-10.4" y="19.1" width="1.3" height="0.8" fill="#ccc"/><rect x="-17.1" y="-11.8" width="1.4" height="1.0" fill="#ccc"/><rect x="-13.2" y="-3.2" width="1.7" height="0.6" fill="#ccc"/><rect x="-17.8" y="1.7" width="0.9" height="0.8" fill="#ccc"/><rect x="-16.9" y="-6.3" width="1.3" height="0.7" fill="#ccc"/><rect x="-14.2" y="-6.9" width="1.8" height="0.7" fill="#ccc"/><rect x="-20.5" y="11.5" width="1.4" height="0.6" fill="#ccc"/><rect x="-14.6" y="-4.9" width="1.8" height="0.6" fill="#ccc"/><rect x="-16.5" y="-11.5" width="1.1" height="0.7" fill="#ccc"/><rect x="-19.6" y="13.6" width="0.8" height="0.9" fill="#ccc"/><rect x="-24.7" y="10.1" width="1.9" height="0.8" fill="#ccc"/><rect x="-19.7" y="-3.7" width="2.0" height="0.9" fill="#ccc"/><rect x="-13.9" y="-12.5" width="1.6" height="0.6" fill="#ccc"/><rect x="-13.9" y="9.7" width="1.4" height="0.7" fill="#ccc"/><rect x="-8.0" y="-7.6" width="1.7" height="0.9" fill="#ccc"/><rect x="-17.5" y="-0.4" width="1.1" height="0.7" fill="#ccc"/><rect x="-16.8" y="-8.4" width="0.9" height="0.6" fill="#ccc"/><rect x="-18.5" y="-10.3" width="0.8" height="0.8" fill="#ccc"/><rect x="-16.8" y="-2.2" width="1.7" height="0.8" fill="#ccc"/><rect x="-9.2" y="9.8" width="2.0" height="1.0" fill="#ccc"/><rect x="-17.0" y="-0.9" width="1.3" height="0.6" fill="#ccc"/><rect x="-13.0" y="-7.6" width="1.1" height="0.6" fill="#ccc"/><rect x="-19.4" y="-4.0" width="1.8" height="0.7" fill="#ccc"/><rect x="-17.7" y="8.2" width="1.5" height="0.8" fill="#ccc"/><rect x="-22.7" y="-6.2" width="1.1" height="0.9" fill="#ccc"/><rect x="-20.8" y="3.4" width="1.5" height="0.9" fill="#ccc"/><rect x="-14.4" y="9.0" width="1.4" height="0.9" fill="#ccc"/><rect x="-22.6" y="-8.5" width="1.4" height="0.6" fill="#ccc"/><rect x="-9.7" y="5.0" width="1.3" height="1.0" fill="#ccc"/><rect x="-24.4" y="-1.0" width="0.7" height="0.8" fill="#ccc"/><rect x="-23.4" y="7.8" width="1.6" height="0.9" fill="#ccc"/><rect x="-9.3" y="-12.8" width="0.9" height="0.9" fill="#ccc"/><rect x="-15.0" y="-4.0" width="1.0" height="0.6" fill="#ccc"/><rect x="-22.4" y="-12.6" width="1.2" height="0.7" fill="#ccc"/><rect x="-8.6" y="7.3" width="1.8" height="0.9" fill="#ccc"/><rect x="-13.1" y="8.7" width="1.0" height="0.8" fill="#ccc"/><rect x="-14.1" y="11.3" width="1.0" height="0.9" fill="#ccc"/><rect x="-6.3" y="-2.6" width="1.6" height="0.9" fill="#ccc"/><rect x="-14.1" y="6.6" width="1.1" height="0.7" fill="#ccc"/><rect x="-9.6" y="-9.5" width="1.6" height="0.8" fill="#ccc"/><rect x="-16.2" y="-5.4" width="2.0" height="0.8" fill="#ccc"/><rect x="-17.6" y="10.9" width="1.3" height="0.9" fill="#ccc"/><rect x="-13.3" y="5.8" width="1.8" height="0.8" fill="#ccc"/><rect x="-12.6" y="7.9" width="1.8" height="0.9" fill="#ccc"/><rect x="-17.6" y="-3.0" width="1.0" height="0.5" fill="#ccc"/><rect x="-3.6" y="11.4" width="0.8" height="0.9" fill="#ccc"/><rect x="-21.3" y="9.1" width="0.8" height="0.8" fill="#ccc"/><rect x="-19.8" y="19.5" width="1.4" height="0.7" fill="#ccc"/><rect x="-19.5" y="-14.7" width="1.5" height="0.7" fill="#ccc"/><rect x="-10.1" y="8.4" width="0.8" height="0.6" fill="#ccc"/><rect x="-17.5" y="2.1" width="1.1" height="0.6" fill="#ccc"/><rect x="-13.0" y="4.3" width="1.9" height="0.5" fill="#ccc"/></g><g transform="translate(651.2,600.8)"><path d="M-15.8,-29.4 C-12.2,-30.9 -7.3,-31.1 -3.5,-31.4 C0.3,-31.7 3.8,-32.0 7.1,-31.0 C10.4,-30.0 12.8,-28.2 16.3,-25.6 C19.8,-23.1 25.4,-19.0 27.8,-15.7 C30.2,-12.4 30.4,-10.2 30.8,-5.8 C31.2,-1.3 31.0,6.1 30.1,11.0 C29.2,15.9 28.1,20.0 25.5,23.3 C22.9,26.6 19.6,29.6 14.8,30.9 C10.0,32.2 1.6,31.6 -3.5,31.2 C-8.6,30.8 -12.0,31.0 -15.8,28.6 C-19.6,26.2 -24.0,21.3 -26.5,17.1 C-29.0,12.9 -30.2,8.2 -30.7,3.4 C-31.2,-1.4 -30.5,-7.6 -29.5,-11.9 C-28.5,-16.2 -27.2,-19.7 -24.9,-22.6 C-22.6,-25.5 -19.4,-27.9 -15.8,-29.4Z" fill="#000" stroke="#000" stroke-width="1.12" /><path d="M-6,-30 Q-19.5,-6.4 -11,26" fill="none" stroke="#fff" stroke-width="0.8"/><path d="M16,-23 Q-2.0,3.8 8,29" fill="none" stroke="#fff" stroke-width="0.8"/><ellipse cx="15.5" cy="7" rx="7" ry="11" transform="rotate(12 15.5 7)" fill="none" stroke="#fff" stroke-width="0.9" stroke-dasharray="3 2"/><rect x="-7.6" y="3.1" width="1.6" height="0.6" fill="#ccc"/><rect x="-13.7" y="-1.4" width="1.0" height="0.6" fill="#ccc"/><rect x="-1.3" y="-1.2" width="1.4" height="0.8" fill="#ccc"/><rect x="-19.6" y="-13.6" width="1.7" height="0.9" fill="#ccc"/><rect x="-15.1" y="-2.0" width="1.4" height="0.7" fill="#ccc"/><rect x="-11.0" y="17.2" width="1.2" height="0.6" fill="#ccc"/><rect x="-16.5" y="-1.4" width="1.4" height="0.8" fill="#ccc"/><rect x="-7.1" y="-4.1" width="0.8" height="0.9" fill="#ccc"/><rect x="-14.4" y="3.3" width="1.6" height="0.6" fill="#ccc"/><rect x="-14.1" y="2.5" width="1.1" height="0.6" fill="#ccc"/><rect x="-18.8" y="-19.7" width="1.7" height="0.9" fill="#ccc"/><rect x="-11.1" y="4.9" width="1.4" height="0.5" fill="#ccc"/><rect x="-9.1" y="7.7" width="1.5" height="1.0" fill="#ccc"/><rect x="-21.5" y="-6.9" width="0.7" height="0.6" fill="#ccc"/><rect x="-9.9" y="-13.5" width="1.7" height="0.6" fill="#ccc"/><rect x="-13.2" y="-9.3" width="0.9" height="0.5" fill="#ccc"/><rect x="-16.9" y="-11.1" width="0.8" height="0.6" fill="#ccc"/><rect x="-16.4" y="-7.6" width="1.7" height="1.0" fill="#ccc"/><rect x="-14.2" y="1.5" width="1.0" height="1.0" fill="#ccc"/><rect x="-12.5" y="-14.9" width="0.8" height="0.7" fill="#ccc"/><rect x="-14.9" y="16.2" width="1.7" height="0.7" fill="#ccc"/><rect x="-13.8" y="-2.3" width="1.5" height="0.9" fill="#ccc"/><rect x="-15.2" y="-4.4" width="0.8" height="0.5" fill="#ccc"/><rect x="-17.5" y="1.3" width="1.0" height="0.8" fill="#ccc"/><rect x="-15.7" y="-5.6" width="0.8" height="0.8" fill="#ccc"/><rect x="-11.0" y="-7.0" width="1.0" height="1.0" fill="#ccc"/><rect x="-19.3" y="10.8" width="1.9" height="0.9" fill="#ccc"/><rect x="-21.4" y="-3.0" width="1.5" height="1.0" fill="#ccc"/><rect x="-18.4" y="-9.5" width="1.8" height="0.9" fill="#ccc"/><rect x="-13.4" y="15.9" width="2.0" height="0.8" fill="#ccc"/><rect x="-22.2" y="-2.0" width="1.6" height="0.5" fill="#ccc"/><rect x="-11.5" y="-2.2" width="1.1" height="0.5" fill="#ccc"/><rect x="-6.1" y="7.5" width="1.7" height="0.8" fill="#ccc"/><rect x="-12.5" y="-6.8" width="1.8" height="0.9" fill="#ccc"/><rect x="-11.1" y="6.4" width="1.4" height="0.7" fill="#ccc"/><rect x="-10.4" y="7.1" width="1.2" height="0.8" fill="#ccc"/><rect x="-17.1" y="-7.5" width="1.1" height="0.9" fill="#ccc"/><rect x="-20.4" y="-10.1" width="0.8" height="0.5" fill="#ccc"/><rect x="-22.8" y="1.8" width="1.1" height="0.6" fill="#ccc"/><rect x="-11.0" y="19.3" width="1.3" height="0.7" fill="#ccc"/><rect x="-15.8" y="7.8" width="0.8" height="0.6" fill="#ccc"/><rect x="-18.8" y="14.0" width="1.7" height="0.7" fill="#ccc"/><rect x="-20.7" y="2.2" width="2.0" height="0.7" fill="#ccc"/><rect x="-11.7" y="-1.8" width="0.9" height="0.6" fill="#ccc"/><rect x="-14.4" y="-2.5" width="0.9" height="0.7" fill="#ccc"/><rect x="-11.1" y="2.0" width="0.8" height="0.7" fill="#ccc"/><rect x="-5.4" y="-12.7" width="1.8" height="0.7" fill="#ccc"/><rect x="-20.1" y="-8.2" width="0.9" height="0.9" fill="#ccc"/><rect x="-24.5" y="11.0" width="1.3" height="0.8" fill="#ccc"/><rect x="-22.7" y="1.5" width="0.7" height="0.6" fill="#ccc"/><rect x="-18.4" y="2.4" width="1.8" height="0.5" fill="#ccc"/><rect x="-23.9" y="15.4" width="1.6" height="0.9" fill="#ccc"/><rect x="-8.6" y="-2.6" width="0.8" height="0.5" fill="#ccc"/><rect x="-8.5" y="-9.0" width="1.7" height="0.6" fill="#ccc"/><rect x="-8.7" y="2.0" width="1.4" height="0.7" fill="#ccc"/><rect x="-25.4" y="-10.8" width="1.7" height="0.7" fill="#ccc"/><rect x="-21.8" y="3.5" width="1.7" height="0.9" fill="#ccc"/><rect x="-17.3" y="-1.6" width="1.9" height="0.8" fill="#ccc"/><rect x="-17.7" y="-6.5" width="1.0" height="0.8" fill="#ccc"/><rect x="-15.8" y="13.3" width="1.7" height="0.7" fill="#ccc"/><rect x="-14.7" y="2.0" width="1.7" height="0.9" fill="#ccc"/><rect x="-13.4" y="1.7" width="1.3" height="1.0" fill="#ccc"/><rect x="-23.2" y="3.1" width="1.1" height="0.9" fill="#ccc"/><rect x="-14.7" y="13.0" width="1.9" height="0.7" fill="#ccc"/><rect x="-15.5" y="-8.2" width="1.2" height="0.6" fill="#ccc"/><rect x="-19.4" y="-5.4" width="1.9" height="0.6" fill="#ccc"/><rect x="-19.2" y="3.2" width="1.8" height="0.8" fill="#ccc"/><rect x="-5.2" y="2.9" width="1.9" height="0.8" fill="#ccc"/><rect x="-24.8" y="0.3" width="0.9" height="0.6" fill="#ccc"/><rect x="-8.4" y="3.6" width="0.8" height="1.0" fill="#ccc"/><rect x="-13.7" y="3.8" width="1.8" height="0.9" fill="#ccc"/><rect x="-21.2" y="-2.5" width="1.6" height="0.9" fill="#ccc"/><rect x="-15.7" y="1.2" width="1.3" height="0.8" fill="#ccc"/><rect x="-17.9" y="-16.6" width="1.7" height="0.6" fill="#ccc"/><rect x="-23.5" y="-5.3" width="0.9" height="0.8" fill="#ccc"/><rect x="-22.6" y="13.8" width="1.8" height="0.8" fill="#ccc"/><rect x="-6.2" y="15.9" width="1.6" height="0.7" fill="#ccc"/><rect x="-26.5" y="12.8" width="1.5" height="0.9" fill="#ccc"/><rect x="-12.9" y="-8.7" width="0.8" height="0.9" fill="#ccc"/><rect x="-13.3" y="1.0" width="0.7" height="0.9" fill="#ccc"/><rect x="-12.8" y="-3.3" width="1.5" height="0.6" fill="#ccc"/><rect x="-14.7" y="-15.4" width="1.8" height="1.0" fill="#ccc"/><rect x="-16.3" y="12.4" width="1.9" height="1.0" fill="#ccc"/><rect x="-12.0" y="2.2" width="1.7" height="0.8" fill="#ccc"/><rect x="-6.8" y="11.5" width="1.5" height="0.7" fill="#ccc"/><rect x="-17.1" y="-2.1" width="0.7" height="0.9" fill="#ccc"/><rect x="-13.9" y="-5.4" width="0.8" height="0.9" fill="#ccc"/><rect x="-24.3" y="2.9" width="1.5" height="0.6" fill="#ccc"/><rect x="-21.1" y="-6.2" width="1.1" height="0.6" fill="#ccc"/><rect x="-17.3" y="-12.9" width="0.8" height="0.6" fill="#ccc"/><rect x="-15.2" y="-1.5" width="0.8" height="0.9" fill="#ccc"/><rect x="-22.2" y="-14.7" width="0.8" height="0.7" fill="#ccc"/><rect x="-12.9" y="7.6" width="1.0" height="0.8" fill="#ccc"/><rect x="-18.8" y="-10.7" width="1.9" height="0.9" fill="#ccc"/><rect x="-0.6" y="17.5" width="0.8" height="0.9" fill="#ccc"/><rect x="-13.1" y="-5.7" width="1.0" height="0.7" fill="#ccc"/><rect x="-1.5" y="-4.9" width="1.2" height="0.9" fill="#ccc"/><rect x="-17.0" y="2.5" width="1.6" height="0.6" fill="#ccc"/><rect x="-22.9" y="-1.5" width="1.2" height="0.7" fill="#ccc"/><rect x="-17.1" y="-14.9" width="0.8" height="0.9" fill="#ccc"/><rect x="-22.2" y="1.8" width="1.8" height="0.6" fill="#ccc"/><rect x="-13.4" y="7.9" width="1.0" height="0.8" fill="#ccc"/><rect x="-20.7" y="-7.7" width="0.7" height="0.6" fill="#ccc"/><rect x="-18.0" y="16.1" width="0.8" height="0.9" fill="#ccc"/><rect x="-8.2" y="11.2" width="1.3" height="0.6" fill="#ccc"/><rect x="-11.9" y="-5.9" width="1.6" height="0.9" fill="#ccc"/><rect x="-11.9" y="-8.7" width="1.4" height="1.0" fill="#ccc"/><rect x="-24.0" y="8.0" width="1.4" height="0.6" fill="#ccc"/><rect x="-14.2" y="10.4" width="1.3" height="0.7" fill="#ccc"/><rect x="-14.1" y="10.2" width="0.9" height="0.7" fill="#ccc"/><rect x="-25.3" y="-16.5" width="1.9" height="0.9" fill="#ccc"/><rect x="-2.0" y="2.9" width="1.6" height="0.9" fill="#ccc"/><rect x="-10.8" y="2.5" width="0.8" height="0.6" fill="#ccc"/><rect x="-18.4" y="2.2" width="0.9" height="0.6" fill="#ccc"/><rect x="-25.3" y="10.0" width="1.6" height="0.6" fill="#ccc"/><rect x="-9.4" y="6.1" width="1.3" height="1.0" fill="#ccc"/><rect x="-18.3" y="-10.9" width="1.8" height="0.6" fill="#ccc"/><rect x="-21.3" y="-13.3" width="2.0" height="0.6" fill="#ccc"/><rect x="-4.0" y="-8.5" width="1.2" height="0.7" fill="#ccc"/><rect x="-13.1" y="-9.0" width="1.4" height="0.5" fill="#ccc"/><rect x="-9.1" y="-11.5" width="0.8" height="0.7" fill="#ccc"/><rect x="-22.7" y="-19.3" width="1.5" height="0.8" fill="#ccc"/><rect x="-11.9" y="4.2" width="1.1" height="0.8" fill="#ccc"/><rect x="-19.2" y="-2.3" width="1.8" height="0.9" fill="#ccc"/><rect x="-12.2" y="11.3" width="0.8" height="0.5" fill="#ccc"/><rect x="-22.9" y="5.3" width="1.4" height="0.8" fill="#ccc"/><rect x="-9.8" y="-0.9" width="0.8" height="0.7" fill="#ccc"/><rect x="-6.2" y="-10.3" width="1.2" height="0.6" fill="#ccc"/><rect x="-6.1" y="6.1" width="1.5" height="0.5" fill="#ccc"/><rect x="-23.5" y="3.4" width="0.9" height="0.5" fill="#ccc"/><rect x="-9.5" y="0.3" width="0.8" height="0.8" fill="#ccc"/><rect x="-6.2" y="13.8" width="0.8" height="0.7" fill="#ccc"/><rect x="-19.4" y="1.4" width="1.5" height="0.9" fill="#ccc"/><rect x="-24.4" y="10.9" width="1.0" height="0.7" fill="#ccc"/><rect x="-9.4" y="-4.9" width="1.4" height="0.9" fill="#ccc"/><rect x="-12.4" y="-2.2" width="0.9" height="0.9" fill="#ccc"/><rect x="-21.1" y="0.1" width="1.2" height="0.7" fill="#ccc"/><rect x="-24.2" y="-2.9" width="0.8" height="1.0" fill="#ccc"/><rect x="-16.9" y="-6.3" width="1.2" height="0.7" fill="#ccc"/><rect x="-11.9" y="-6.8" width="1.2" height="0.7" fill="#ccc"/><rect x="-20.5" y="11.2" width="0.8" height="0.6" fill="#ccc"/><rect x="-23.3" y="-6.4" width="0.7" height="0.5" fill="#ccc"/></g><ellipse cx="936.4" cy="185.7" rx="10.5" ry="16.5" transform="rotate(15 936.4 185.7)" fill="#000" stroke="#000" stroke-width="1.12" /><ellipse cx="940.0" cy="184.9" rx="9.9" ry="15.6" transform="rotate(15 940.0 184.9)" fill="#fff" stroke="#000" stroke-width="1.01" /><clipPath id="lw938"><ellipse cx="939.3" cy="185.5" rx="6.2" ry="10.6" transform="rotate(15 939.3 185.5)" fill="#000" stroke="#000" stroke-width="0" /></clipPath><ellipse cx="939.3" cy="185.5" rx="6.2" ry="10.6" transform="rotate(15 939.3 185.5)" fill="#000" stroke="#000" stroke-width="1.01" /><g clip-path="url(#lw938)"><ellipse cx="935.9" cy="184.4" rx="4.6" ry="9.3" transform="rotate(15 935.9 184.4)" fill="#fff" stroke="#000" stroke-width="0" /></g><path d="M925.6999999999999,187.79999999999998 L934.0999999999999,184.79999999999998" stroke="#fff" stroke-width="2.2" fill="none" stroke-linecap="butt"/><path d="M926.0,186.6 L934.0999999999999,183.79999999999998 M926.0999999999999,189.1 L933.9,186.1" stroke="#000" stroke-width="0.8" fill="none"/><ellipse cx="742.9" cy="624.5" rx="10.5" ry="16.5" transform="rotate(15 742.9 624.5)" fill="#000" stroke="#000" stroke-width="1.12" /><ellipse cx="746.5" cy="623.7" rx="9.9" ry="15.6" transform="rotate(15 746.5 623.7)" fill="#fff" stroke="#000" stroke-width="1.01" /><clipPath id="lw744"><ellipse cx="745.8" cy="624.3" rx="6.2" ry="10.6" transform="rotate(15 745.8 624.3)" fill="#000" stroke="#000" stroke-width="0" /></clipPath><ellipse cx="745.8" cy="624.3" rx="6.2" ry="10.6" transform="rotate(15 745.8 624.3)" fill="#000" stroke="#000" stroke-width="1.01" /><g clip-path="url(#lw744)"><ellipse cx="742.4" cy="623.2" rx="4.6" ry="9.3" transform="rotate(15 742.4 623.2)" fill="#fff" stroke="#000" stroke-width="0" /></g><path d="M732.1999999999999,626.6 L740.5999999999999,623.6" stroke="#fff" stroke-width="2.2" fill="none" stroke-linecap="butt"/><path d="M732.5,625.4 L740.5999999999999,622.6 M732.5999999999999,627.9 L740.4,624.9" stroke="#000" stroke-width="0.8" fill="none"/><ellipse cx="102.2" cy="452.5" rx="10.5" ry="16.5" transform="rotate(15 102.2 452.5)" fill="#000" stroke="#000" stroke-width="1.12" /><ellipse cx="105.8" cy="451.7" rx="9.9" ry="15.6" transform="rotate(15 105.8 451.7)" fill="#fff" stroke="#000" stroke-width="1.01" /><clipPath id="lw104"><ellipse cx="105.1" cy="452.3" rx="6.2" ry="10.6" transform="rotate(15 105.1 452.3)" fill="#000" stroke="#000" stroke-width="0" /></clipPath><ellipse cx="105.1" cy="452.3" rx="6.2" ry="10.6" transform="rotate(15 105.1 452.3)" fill="#000" stroke="#000" stroke-width="1.01" /><g clip-path="url(#lw104)"><ellipse cx="101.7" cy="451.2" rx="4.6" ry="9.3" transform="rotate(15 101.7 451.2)" fill="#fff" stroke="#000" stroke-width="0" /></g><path d="M91.5,454.6 L99.89999999999999,451.6" stroke="#fff" stroke-width="2.2" fill="none" stroke-linecap="butt"/><path d="M91.8,453.4 L99.89999999999999,450.6 M91.89999999999999,455.9 L99.69999999999999,452.9" stroke="#000" stroke-width="0.8" fill="none"/><g transform="translate(975,194.7)"><path d="M0.0,-18.7 L9.2,-16.8 L15.6,-4.0 L11.9,11.1 L0.0,18.9 L-11.0,15.3 L-15.6,5.6 L-11.0,-12.2Z" fill="#000" stroke="#000" stroke-width="1.34" /><path d="M-1.4,-9.5 L7.8,-15.5 L15.4,-4.0 L11.5,11.1 L0.5,18.0 L-4.8,7.5Z" fill="#fff" stroke="#000" stroke-width="1.12" /><ellipse cx="5.5" cy="0.6" rx="5.9" ry="9.7" transform="rotate(15 5.5 0.6)" fill="#000"/><path d="M3.2,-6.5 Q0.6,0.8 3.6,8 M5.6,-6.8 Q3,0.8 6,8.2 M8,-6 Q5.6,0.8 8.2,7.4" fill="none" stroke="#fff" stroke-width="0.8"/><path d="M-10,-9.5 L-3.8,-8.2 M-13.6,6.2 L-7.4,7.8" stroke="#fff" stroke-width="0.7"/></g><g transform="translate(781.3,633.6)"><path d="M0.0,-18.7 L9.2,-16.8 L15.6,-4.0 L11.9,11.1 L0.0,18.9 L-11.0,15.3 L-15.6,5.6 L-11.0,-12.2Z" fill="#000" stroke="#000" stroke-width="1.34" /><path d="M-1.4,-9.5 L7.8,-15.5 L15.4,-4.0 L11.5,11.1 L0.5,18.0 L-4.8,7.5Z" fill="#fff" stroke="#000" stroke-width="1.12" /><ellipse cx="5.5" cy="0.6" rx="5.9" ry="9.7" transform="rotate(15 5.5 0.6)" fill="#000"/><path d="M3.2,-6.5 Q0.6,0.8 3.6,8 M5.6,-6.8 Q3,0.8 6,8.2 M8,-6 Q5.6,0.8 8.2,7.4" fill="none" stroke="#fff" stroke-width="0.8"/><path d="M-10,-9.5 L-3.8,-8.2 M-13.6,6.2 L-7.4,7.8" stroke="#fff" stroke-width="0.7"/></g><g transform="translate(68.4,442.5)"><path d="M0.0,-18.7 L9.2,-16.8 L15.6,-4.0 L11.9,11.1 L0.0,18.9 L-11.0,15.3 L-15.6,5.6 L-11.0,-12.2Z" fill="#000" stroke="#000" stroke-width="1.34" /><path d="M-1.4,-9.5 L7.8,-15.5 L15.4,-4.0 L11.5,11.1 L0.5,18.0 L-4.8,7.5Z" fill="#fff" stroke="#000" stroke-width="1.12" /><ellipse cx="5.5" cy="0.6" rx="5.9" ry="9.7" transform="rotate(15 5.5 0.6)" fill="#000"/><path d="M3.2,-6.5 Q0.6,0.8 3.6,8 M5.6,-6.8 Q3,0.8 6,8.2 M8,-6 Q5.6,0.8 8.2,7.4" fill="none" stroke="#fff" stroke-width="0.8"/><path d="M-10,-9.5 L-3.8,-8.2 M-13.6,6.2 L-7.4,7.8" stroke="#fff" stroke-width="0.7"/></g><path d="M132.9,441 Q171,435.5 207.7,447.9 L227.6,455.5 Q234.5,461 233.7,470.8 Q233.5,484 229.1,495.2 Q224.5,507 216.9,512 Q209,514.5 201.6,512.8 L171,502.9 Q167,499 165.7,494.5 Q140,491 119.9,496.8 Q122,474 132.9,441Z" fill="#fff" stroke="#000" stroke-width="1.01" /><path d="M173.4,438 Q180,445 184.8,455.5 Q192,476 195.5,493.7 L201.6,512.8" fill="none" stroke="#000" stroke-width="1.01" /><path d="M165.7,494.5 Q176,494.5 183.3,496.8 Q192,501 198.5,508.2" fill="none" stroke="#000" stroke-width="1.01" /><ellipse cx="214.6" cy="484.5" rx="10.2" ry="16.0" transform="rotate(14 214.6 484.5)" fill="#000" stroke="#000" stroke-width="0.8" /><path d="M253.6,485.5 L273,489.8 L270,510.2 L250.2,505.6 Q246.5,495 253.6,485.5Z" fill="#111" stroke="#000" stroke-width="1.12" /><path d="M254.5,489.5 l-2.2,13" fill="none" stroke="#999" stroke-width="0.6" /><path d="M257.3,490.1 l-2.2,13" fill="none" stroke="#999" stroke-width="0.6" /><path d="M260.1,490.7 l-2.2,13" fill="none" stroke="#999" stroke-width="0.6" /><path d="M262.9,491.3 l-2.2,13" fill="none" stroke="#999" stroke-width="0.6" /><path d="M265.7,491.9 l-2.2,13" fill="none" stroke="#999" stroke-width="0.6" /><path d="M268.5,492.5 l-2.2,13" fill="none" stroke="#999" stroke-width="0.6" /><path d="M276.6,489.5 L308,492.9 L302.9,524.3 L271.5,510.7 Q269.5,499 276.6,489.5Z" fill="#fff" stroke="#000" stroke-width="1.23" /><path d="M272,503.5 L303.5,515 L302.9,523.3 L271.5,510Z" fill="#000" stroke="#000" stroke-width="0.5" /><path d="M308,492.9 L316,494.2 Q324,495 325.5,498.5 L320,528 L310.6,526.9 L302.9,525.2 Q297,508 308,492.9Z" fill="#fff" stroke="#000" stroke-width="1.23" /><path d="M314.8,495.4 Q304.5,510 310.6,526.9" fill="none" stroke="#000" stroke-width="1.12" /><path d="M320.5,497.5 Q311,512 316.5,527.6" fill="none" stroke="#000" stroke-width="1.01" /><path d="M325,498 L374.3,513.3 L364.1,537.9 L317.5,527.5 Q312.5,512 325,498Z" fill="#fff" stroke="#000" stroke-width="1.23" /><path d="M314.5,517.5 L363.5,530.5 L364.1,537.3 L316,526.8Z" fill="#000" stroke="#000" stroke-width="0.5" /><path d="M374.3,513.3 L379,514.2 L395,520 Q401,531 389.6,543.5 L369.2,538.8 L364.1,537.9 Q359,525 374.3,513.3Z" fill="#fff" stroke="#000" stroke-width="1.23" /><path d="M379,514.5 Q366,526 370.5,539" fill="none" stroke="#000" stroke-width="1.01" /><path d="M380,515 L392,519.5 L387.5,542.5 L371.5,538.8 Q367.5,527 380,515Z" fill="#222" stroke="#000" stroke-width="0.6" /><path d="M381.5,517.0 q-6,11 -3.4,21.5" fill="none" stroke="#bbb" stroke-width="0.6" /><path d="M384.1,517.9 q-6,11 -3.4,21.5" fill="none" stroke="#bbb" stroke-width="0.6" /><path d="M386.7,518.8 q-6,11 -3.4,21.5" fill="none" stroke="#bbb" stroke-width="0.6" /><path d="M389.3,519.7 q-6,11 -3.4,21.5" fill="none" stroke="#bbb" stroke-width="0.6" /><path d="M391.9,520.6 q-6,11 -3.4,21.5" fill="none" stroke="#bbb" stroke-width="0.6" /><ellipse cx="393.0" cy="531.3" rx="6.0" ry="10.6" transform="rotate(14 393.0 531.3)" fill="#fff" stroke="#000" stroke-width="1.12" />
<g style="mix-blend-mode:darken"><path d="M884.0,26.5 L651.0,26.5 L622.5,63.0" fill="none" stroke="#959595" stroke-width="0.75"/><path d="M884.0,53.0 L747.0,53.0 L704.0,98.0" fill="none" stroke="#959595" stroke-width="0.75"/><path d="M747.0,53.0 L822.0,130.0" fill="none" stroke="#959595" stroke-width="0.75"/><path d="M886.0,265.5 L864.0,265.5 L857.0,251.0 L962.0,204.0" fill="none" stroke="#959595" stroke-width="0.75"/><path d="M886.0,292.2 L847.6,292.2 L826.2,240.5 L930.0,198.0" fill="none" stroke="#959595" stroke-width="0.75"/><path d="M886.0,318.5 L831.7,318.5 L793.4,229.8 L899.0,182.0" fill="none" stroke="#959595" stroke-width="0.75"/><path d="M886.0,517.0 L679.5,517.0 L600.0,520.5 L502.0,526.0" fill="none" stroke="#959595" stroke-width="0.75"/><path d="M679.5,517.0 L655.5,570.0" fill="none" stroke="#959595" stroke-width="0.75"/><path d="M886.0,543.3 L763.5,543.3 L721.5,586.5" fill="none" stroke="#959595" stroke-width="0.75"/><path d="M886.0,569.5 L792.0,569.5 L751.5,609.0" fill="none" stroke="#959595" stroke-width="0.75"/><path d="M886.0,596.0 L823.5,596.0 L796.5,622.5" fill="none" stroke="#959595" stroke-width="0.75"/><path d="M111.0,530.5 L129.0,530.5 L135.3,519.7 L72.0,460.0" fill="none" stroke="#959595" stroke-width="0.75"/><path d="M105.0,556.6 L153.6,556.6 L169.5,521.0 L101.0,465.0" fill="none" stroke="#959595" stroke-width="0.75"/><path d="M131.0,583.5 L212.5,583.5 L250.0,498.0" fill="none" stroke="#959595" stroke-width="0.75"/><path d="M130.0,609.7 L387.5,609.7 L410.0,560.0" fill="none" stroke="#959595" stroke-width="0.75"/><path d="M642.0,152.0 L578.5,327.0 L514.0,503.0" fill="none" stroke="#959595" stroke-width="0.75"/><path d="M447.0,300.0 L578.5,327.0" fill="none" stroke="#959595" stroke-width="0.75"/><path d="M447.0,300.0 L640.0,298.5" fill="none" stroke="#959595" stroke-width="0.75"/><path d="M67.0,410.6 L76.0,398.0 L260.3,450.2 L306.4,408.8 L349.6,387.0" fill="none" stroke="#959595" stroke-width="0.75"/><path d="M328.0,419.6 L289.0,456.7 L800.4,600.0 L804.0,607.5" fill="none" stroke="#959595" stroke-width="0.75"/></g>
<g font-family="'Liberation Sans',Arial,sans-serif" font-weight="bold" font-size="10.7px" fill="#111"><text x="887.3" y="30.5">48</text><text x="911.3" y="30.5">451-2905545-01</text><text x="887.3" y="56.8">47</text><text x="911.3" y="56.8">451-2905432</text><text x="887.3" y="269.5">44</text><text x="911.3" y="269.5">250515-П29</text><text x="887.3" y="296.2">45</text><text x="911.3" y="296.2">252157-П2</text><text x="887.3" y="322.8">46</text><text x="911.3" y="322.8">451-2905544-01</text><text x="888" y="521.3">47</text><text x="912.3" y="521.3">451-2905432</text><text x="888" y="547.6">46</text><text x="912.3" y="547.6">451-2905544-01</text><text x="888" y="574">45</text><text x="912.3" y="574">252157-П2</text><text x="888" y="600.4">44</text><text x="912.3" y="600.4">250515-П29</text><text x="26" y="534.2">49</text><text x="50" y="534.2">250634-П29</text><text x="26" y="560.6">50</text><text x="50" y="560.6">252158-П2</text><text x="26" y="587.2">51</text><text x="50" y="587.2">451-2915418-10</text><text x="26" y="613.6">48</text><text x="50" y="613.6">451-2905545-01</text></g>
<text transform="translate(78.5,501.6) rotate(-19)" font-family="'Liberation Sans',Arial,sans-serif" font-weight="bold" font-size="95px" style="mix-blend-mode:darken" dx="0 0 0 2.6 -0.5 -2.1 28.6 2.1 3.2 -1 0 0 4.2 -2.1 2.6 -2.6 1.6" fill="none" stroke="#222" stroke-width="0.85">www.suhron-too.kz</text>
</svg>
</body></html>
